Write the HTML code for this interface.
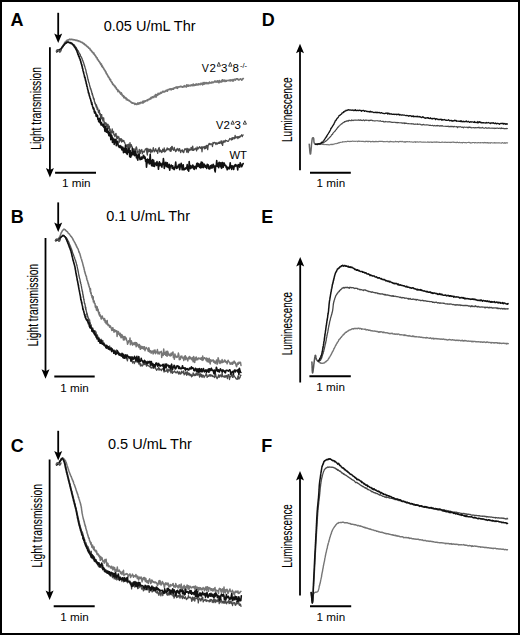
<!DOCTYPE html>
<html><head><meta charset="utf-8"><style>
html,body{margin:0;padding:0;background:#fff;}
svg{display:block}
text{font-family:"Liberation Sans",sans-serif;fill:#000;}
</style></head><body>
<svg width="520" height="635" viewBox="0 0 520 635">
<rect x="1" y="1" width="518" height="633" fill="#fff" stroke="#000" stroke-width="2"/>
<line x1="58.2" y1="12.8" x2="58.2" y2="37" stroke="#000" stroke-width="1.8"/><path d="M54.2 33.5 L58.2 35.5 L62.2 33.5 L58.2 43 Z" fill="#000"/>
<line x1="58.2" y1="202.4" x2="58.2" y2="226.0" stroke="#000" stroke-width="1.8"/><path d="M54.2 222.5 L58.2 224.5 L62.2 222.5 L58.2 232.0 Z" fill="#000"/>
<line x1="58.2" y1="430.8" x2="58.2" y2="454.4" stroke="#000" stroke-width="1.8"/><path d="M54.2 450.9 L58.2 452.9 L62.2 450.9 L58.2 460.4 Z" fill="#000"/>
<line x1="49.9" y1="47.2" x2="49.9" y2="171.5" stroke="#000" stroke-width="1.8"/><path d="M45.9 168.0 L49.9 170.0 L53.9 168.0 L49.9 177.5 Z" fill="#000"/>
<line x1="45.5" y1="238" x2="45.5" y2="372.8" stroke="#000" stroke-width="1.8"/><path d="M41.5 369.3 L45.5 371.3 L49.5 369.3 L45.5 378.8 Z" fill="#000"/>
<line x1="49.6" y1="459.5" x2="49.6" y2="594" stroke="#000" stroke-width="1.8"/><path d="M45.6 590.5 L49.6 592.5 L53.6 590.5 L49.6 600 Z" fill="#000"/>
<line x1="300" y1="49.8" x2="300" y2="170.2" stroke="#000" stroke-width="1.8"/><path d="M296 53.3 L300 51.3 L304 53.3 L300 43.8 Z" fill="#000"/>
<line x1="300.2" y1="263" x2="300.2" y2="382.5" stroke="#000" stroke-width="1.8"/><path d="M296.2 266.5 L300.2 264.5 L304.2 266.5 L300.2 257 Z" fill="#000"/>
<line x1="300" y1="477" x2="300" y2="595.5" stroke="#000" stroke-width="1.8"/><path d="M296 480.5 L300 478.5 L304 480.5 L300 471 Z" fill="#000"/>
<line x1="55.1" y1="172.8" x2="96" y2="172.8" stroke="#000" stroke-width="2"/>
<line x1="54.3" y1="376.4" x2="94.7" y2="376.4" stroke="#000" stroke-width="2"/>
<line x1="53.7" y1="606.2" x2="94.7" y2="606.2" stroke="#000" stroke-width="2"/>
<line x1="310" y1="172.7" x2="350.8" y2="172.7" stroke="#000" stroke-width="2"/>
<line x1="309.4" y1="376.3" x2="350.8" y2="376.3" stroke="#000" stroke-width="2"/>
<line x1="310" y1="606.2" x2="351.2" y2="606.2" stroke="#000" stroke-width="2"/>
<text x="10.4" y="26.2" font-size="18" font-weight="bold">A</text>
<text x="10.8" y="223.3" font-size="18" font-weight="bold">B</text>
<text x="10.7" y="451.7" font-size="18" font-weight="bold">C</text>
<text x="261.8" y="26.3" font-size="18" font-weight="bold">D</text>
<text x="261.2" y="223.0" font-size="18" font-weight="bold">E</text>
<text x="261.3" y="451.8" font-size="18" font-weight="bold">F</text>
<text x="103.7" y="30.8" font-size="14.5" font-weight="normal">0.05 U/mL Thr</text>
<text x="106.2" y="220.5" font-size="14.5" font-weight="normal">0.1 U/mL Thr</text>
<text x="108" y="448.8" font-size="14.5" font-weight="normal">0.5 U/mL Thr</text>
<text x="62.0" y="187.4" font-size="11.7" font-weight="normal">1 min</text>
<text x="60.2" y="391.5" font-size="11.7" font-weight="normal">1 min</text>
<text x="60.2" y="621.0" font-size="11.7" font-weight="normal">1 min</text>
<text x="316.6" y="187.2" font-size="11.7" font-weight="normal">1 min</text>
<text x="316.3" y="391.3" font-size="11.7" font-weight="normal">1 min</text>
<text x="316.6" y="621.3" font-size="11.7" font-weight="normal">1 min</text>
<text transform="translate(41.3 149.8) rotate(-90)" font-size="14" textLength="82.7" lengthAdjust="spacingAndGlyphs" stroke="#000" stroke-width="0.12">Light transmission</text>
<text transform="translate(37.8 346.2) rotate(-90)" font-size="14" textLength="82.4" lengthAdjust="spacingAndGlyphs" stroke="#000" stroke-width="0.12">Light transmission</text>
<text transform="translate(41.5 567.5) rotate(-90)" font-size="14" textLength="83.5" lengthAdjust="spacingAndGlyphs" stroke="#000" stroke-width="0.12">Light transmission</text>
<text transform="translate(292 142) rotate(-90)" font-size="14" textLength="64.5" lengthAdjust="spacingAndGlyphs" stroke="#000" stroke-width="0.12">Luminescence</text>
<text transform="translate(291.7 355.2) rotate(-90)" font-size="14" textLength="63.2" lengthAdjust="spacingAndGlyphs" stroke="#000" stroke-width="0.12">Luminescence</text>
<text transform="translate(292 567.7) rotate(-90)" font-size="14" textLength="63.5" lengthAdjust="spacingAndGlyphs" stroke="#000" stroke-width="0.12">Luminescence</text>
<text x="201.7" y="72.2" font-size="11.5" textLength="7.1" lengthAdjust="spacingAndGlyphs">V</text>
<text x="209.6" y="72.2" font-size="11.5" textLength="6.4" lengthAdjust="spacingAndGlyphs">2</text>
<path d="M217.15 66.15 L218.80 62.35 L220.45 66.15 Z" fill="none" stroke="#222" stroke-width="0.85" stroke-linejoin="miter"/>
<text x="220.9" y="72.2" font-size="11.5" textLength="6.4" lengthAdjust="spacingAndGlyphs">3</text>
<path d="M228.65 66.15 L230.30 62.35 L231.95 66.15 Z" fill="none" stroke="#222" stroke-width="0.85" stroke-linejoin="miter"/>
<text x="232.6" y="72.2" font-size="11.5" textLength="6.4" lengthAdjust="spacingAndGlyphs">8</text>
<text x="240.0" y="67.6" font-size="6.5" textLength="7.0" lengthAdjust="spacingAndGlyphs">-/-</text>
<text x="216.0" y="128.8" font-size="11.5" textLength="7.3" lengthAdjust="spacingAndGlyphs">V</text>
<text x="223.4" y="128.8" font-size="11.5" textLength="6.4" lengthAdjust="spacingAndGlyphs">2</text>
<path d="M231.05 124.15 L232.65 120.75 L234.25 124.15 Z" fill="none" stroke="#222" stroke-width="0.85" stroke-linejoin="miter"/>
<text x="234.4" y="128.8" font-size="11.5" textLength="6.4" lengthAdjust="spacingAndGlyphs">3</text>
<path d="M243.25 124.15 L244.85 120.75 L246.45 124.15 Z" fill="none" stroke="#222" stroke-width="0.85" stroke-linejoin="miter"/>
<text x="229.4" y="158.6" font-size="11.5" textLength="17.5" lengthAdjust="spacingAndGlyphs">WT</text>
<path d="M56.8 51.6L57.2 51.3L57.6 50.9L58.0 50.3L58.4 50.4L58.8 50.1L59.3 49.8L59.8 49.9L60.3 49.7L60.7 49.4L61.0 49.0L61.3 48.7L61.6 48.0L61.9 47.7L62.1 47.2L62.4 47.0L62.6 46.5L62.9 46.0L63.1 45.4L63.3 45.1L63.6 44.7L63.8 44.2L64.1 44.1L64.4 43.6L64.7 42.5L64.9 42.3L65.2 42.2L65.5 41.7L65.9 41.5L66.2 41.1L66.6 41.1L67.0 40.2L67.4 40.1L67.9 40.4L68.4 39.9L68.8 39.8L69.3 39.5L69.8 39.2L70.3 39.6L70.8 39.5L71.3 39.3L71.8 39.4L72.3 39.6L72.8 39.5L73.3 39.7L73.8 39.8L74.3 39.9L74.8 39.8L75.3 40.2L75.8 40.3L76.3 40.3L76.7 40.2L77.2 40.7L77.7 40.6L78.2 41.0L78.6 40.8L79.1 41.4L79.6 41.4L80.0 41.3L80.5 41.7L80.9 42.0L81.4 42.3L81.8 42.2L82.3 42.5L82.7 43.0L83.1 43.1L83.5 43.6L83.9 44.0L84.3 43.7L84.7 44.4L85.1 45.0L85.5 44.9L85.9 45.1L86.3 45.8L86.7 46.0L87.0 46.5L87.4 46.6L87.8 46.6L88.1 47.3L88.5 47.6L88.9 48.2L89.2 48.4L89.6 48.3L89.9 48.8L90.2 49.7L90.6 50.0L90.9 50.0L91.2 50.6L91.6 51.1L91.9 51.5L92.2 52.0L92.5 52.2L92.9 52.5L93.2 52.8L93.5 53.6L93.8 53.1L94.1 54.0L94.4 54.5L94.7 54.5L95.0 55.4L95.3 55.5L95.6 56.3L95.9 56.4L96.2 57.1L96.4 57.7L96.7 57.8L97.0 57.9L97.2 58.1L97.5 59.5L97.8 59.4L98.0 59.7L98.3 60.3L98.6 60.6L98.9 61.3L99.2 61.5L99.4 61.9L99.7 62.1L100.0 62.9L100.3 62.9L100.6 63.8L100.8 64.5L101.1 64.0L101.4 64.1L101.6 65.5L101.9 66.5L102.2 65.8L102.4 66.1L102.7 67.2L102.9 67.1L103.2 67.7L103.5 68.1L103.7 68.8L104.0 69.0L104.2 69.6L104.5 69.9L104.8 70.1L105.0 70.7L105.3 70.9L105.5 71.7L105.8 71.7L106.0 72.2L106.3 73.5L106.5 73.4L106.8 73.8L107.0 74.5L107.2 74.6L107.5 75.1L107.7 75.8L108.0 76.1L108.2 76.1L108.5 77.2L108.7 77.1L109.0 77.4L109.2 77.9L109.5 78.5L109.8 79.6L110.0 79.0L110.3 80.0L110.5 79.5L110.8 80.7L111.1 81.5L111.4 81.5L111.6 81.8L111.9 82.5L112.2 83.1L112.5 83.5L112.8 84.4L113.0 84.2L113.3 84.2L113.6 84.8L113.9 85.3L114.2 85.7L114.5 86.1L114.8 86.6L115.1 86.2L115.4 87.6L115.7 87.4L116.1 87.6L116.4 88.7L116.7 89.4L117.0 89.4L117.3 89.7L117.7 89.6L118.0 91.6L118.3 91.1L118.6 90.6L118.9 91.2L119.3 91.9L119.6 91.6L119.9 92.7L120.3 92.8L120.6 93.9L121.0 94.2L121.3 92.9L121.6 94.5L122.0 94.1L122.3 95.7L122.7 95.6L123.1 96.1L123.4 95.7L123.8 97.4L124.2 97.8L124.5 96.7L124.9 97.7L125.3 97.6L125.7 98.2L126.0 97.9L126.4 99.7L126.8 98.7L127.2 99.3L127.6 100.0L128.0 99.8L128.4 100.3L128.8 100.4L129.2 100.9L129.6 100.7L130.0 101.3L130.5 101.7L130.9 101.9L131.3 102.4L131.7 102.4L132.2 103.2L132.6 102.9L133.0 103.2L133.5 103.2L134.0 103.5L134.4 103.3L134.9 104.3L135.4 103.6L135.9 103.8L136.4 104.4L136.9 104.4L137.4 103.9L137.9 103.0L138.4 104.1L138.8 103.8L139.3 102.8L139.8 103.7L140.2 102.8L140.7 102.4L141.2 102.9L141.6 102.6L142.1 102.6L142.6 101.5L143.0 103.1L143.5 101.6L144.0 101.0L144.4 101.9L144.9 101.2L145.4 101.3L145.8 100.8L146.3 100.7L146.7 100.7L147.2 100.0L147.6 100.5L148.1 99.7L148.5 99.3L149.0 99.5L149.4 99.5L149.9 98.9L150.3 98.4L150.8 98.9L151.2 97.4L151.6 97.6L152.1 97.9L152.5 96.9L153.0 97.4L153.4 97.1L153.8 97.3L154.2 96.1L154.7 96.0L155.1 96.3L155.5 94.6L156.0 97.2L156.4 95.0L156.8 94.7L157.3 95.3L157.7 94.6L158.1 93.4L158.6 94.5L159.0 94.3L159.5 93.4L159.9 93.3L160.4 93.5L160.8 92.5L161.3 93.0L161.7 92.7L162.2 92.0L162.6 91.4L163.1 91.8L163.5 91.3L164.0 92.1L164.5 91.4L164.9 91.6L165.4 91.1L165.9 90.9L166.3 90.2L166.8 90.8L167.3 91.2L167.7 89.9L168.2 89.6L168.7 89.7L169.1 89.4L169.6 89.1L170.1 89.4L170.6 89.0L171.1 89.8L171.5 88.9L172.0 89.0L172.5 89.2L173.0 88.4L173.5 89.2L174.0 88.0L174.5 87.8L174.9 87.9L175.4 87.9L175.9 87.1L176.4 87.8L176.9 86.8L177.4 88.3L177.9 87.4L178.4 87.0L178.9 86.8L179.4 87.0L179.8 87.0L180.3 86.4L180.8 86.4L181.3 86.7L181.8 86.5L182.3 87.2L182.8 87.2L183.3 86.6L183.8 86.7L184.3 85.7L184.8 86.7L185.3 86.3L185.8 86.5L186.3 87.0L186.8 84.8L187.3 86.1L187.8 85.3L188.3 86.2L188.7 85.0L189.2 85.4L189.7 85.7L190.2 85.9L190.7 85.5L191.2 84.9L191.7 85.0L192.2 85.7L192.7 85.1L193.2 84.1L193.7 85.5L194.2 85.1L194.7 85.3L195.2 84.6L195.7 85.1L196.2 84.0L196.7 84.8L197.1 84.2L197.6 84.8L198.1 84.9L198.6 83.8L199.1 84.1L199.6 84.1L200.1 84.7L200.6 84.3L201.1 83.2L201.6 84.0L202.1 84.1L202.6 84.8L203.1 82.6L203.6 83.2L204.1 84.2L204.6 82.6L205.1 82.6L205.6 83.5L206.0 83.7L206.5 82.7L207.0 83.3L207.5 83.0L208.0 83.7L208.5 82.8L209.0 83.3L209.5 82.1L210.0 82.5L210.5 82.5L211.0 83.1L211.5 82.7L212.0 81.9L212.5 82.7L213.0 82.7L213.5 82.1L214.0 82.0L214.5 81.9L215.0 81.0L215.5 82.0L216.0 82.0L216.5 81.3L217.0 82.2L217.5 80.9L218.0 81.3L218.5 81.3L218.9 82.7L219.4 80.5L219.9 81.7L220.4 81.9L220.9 81.5L221.4 81.9L221.9 80.6L222.4 79.8L222.9 81.5L223.4 80.3L223.9 80.8L224.4 80.2L224.9 81.4L225.4 81.3L225.9 80.3L226.4 81.2L226.9 80.7L227.4 80.5L227.9 80.5L228.4 80.3L228.9 80.7L229.4 80.5L229.9 80.0L230.4 80.8L230.9 79.8L231.4 80.2L231.9 80.3L232.4 80.8L232.9 79.6L233.4 80.9L233.8 79.9L234.3 79.6L234.8 79.3L235.3 80.0L235.8 79.6L236.3 78.8L236.8 78.8L237.3 79.1L237.8 78.9L238.3 79.9L238.8 80.0L239.3 79.7L239.8 79.3L240.3 78.8L240.8 79.0L241.3 79.5L241.8 80.1L242.3 79.4L242.8 78.6L243.3 78.7" fill="none" stroke="#767676" stroke-width="1.7" stroke-linejoin="round" stroke-linecap="round"/>
<path d="M56.8 51.5L57.2 51.1L57.6 50.8L58.0 50.2L58.4 50.6L58.8 50.3L59.3 49.9L59.8 49.9L60.3 49.7L60.7 49.3L61.0 49.2L61.4 48.6L61.7 48.2L62.0 47.7L62.3 47.5L62.6 47.0L62.9 46.7L63.2 46.1L63.4 45.8L63.7 45.2L64.1 45.2L64.4 44.7L64.7 44.3L65.1 44.0L65.4 43.4L65.8 43.4L66.2 43.3L66.6 42.3L67.1 42.1L67.5 42.0L68.0 42.4L68.5 42.2L69.0 42.4L69.5 42.5L70.0 42.5L70.5 42.7L70.9 42.8L71.4 43.3L71.8 43.1L72.2 43.5L72.6 43.9L73.0 44.6L73.4 44.3L73.8 44.5L74.2 45.0L74.5 45.7L74.8 45.8L75.1 46.6L75.4 46.2L75.7 47.4L76.0 47.7L76.3 47.6L76.6 48.4L76.8 49.1L77.1 49.2L77.4 49.8L77.6 50.6L77.9 50.5L78.1 50.8L78.4 51.1L78.6 51.9L78.8 52.2L79.0 52.6L79.3 53.1L79.5 53.7L79.7 53.7L79.9 54.1L80.2 54.3L80.4 55.7L80.6 55.8L80.8 56.6L81.0 56.7L81.3 56.9L81.5 57.7L81.7 58.0L81.9 58.2L82.1 58.7L82.3 59.9L82.5 60.0L82.7 60.5L82.9 60.7L83.0 61.1L83.2 62.0L83.4 62.2L83.5 62.5L83.7 63.1L83.8 63.4L84.0 64.2L84.1 64.9L84.3 64.8L84.4 66.0L84.6 65.8L84.7 66.6L84.9 66.8L85.0 67.4L85.1 68.0L85.3 68.3L85.4 68.7L85.6 69.2L85.7 69.6L85.8 69.9L86.0 70.8L86.1 71.4L86.2 72.1L86.3 72.5L86.5 73.5L86.6 73.3L86.7 73.6L86.8 74.8L86.9 74.4L87.1 75.5L87.2 75.4L87.3 76.3L87.4 76.1L87.5 77.4L87.6 77.6L87.7 77.8L87.8 79.1L88.0 79.3L88.1 79.6L88.2 79.8L88.3 80.5L88.4 81.0L88.6 81.8L88.7 82.3L88.8 82.2L89.0 82.8L89.1 83.2L89.2 83.4L89.4 84.2L89.5 84.9L89.7 85.7L89.8 86.4L89.9 86.0L90.1 87.1L90.2 87.1L90.4 88.8L90.5 88.2L90.7 89.0L90.8 88.7L91.0 89.2L91.1 90.3L91.2 90.4L91.4 91.3L91.5 90.7L91.7 92.5L91.8 92.0L92.0 94.1L92.1 93.3L92.3 94.7L92.4 93.5L92.5 95.2L92.7 94.8L92.8 95.6L93.0 96.4L93.1 96.6L93.2 97.5L93.4 98.4L93.5 98.8L93.7 98.7L93.8 98.2L93.9 99.1L94.1 100.1L94.2 99.0L94.4 101.8L94.5 101.5L94.7 101.9L94.9 103.4L95.0 103.7L95.2 103.7L95.4 103.1L95.5 104.8L95.7 105.3L95.9 104.6L96.1 106.9L96.3 106.8L96.5 104.8L96.7 107.4L96.9 106.4L97.1 109.4L97.3 109.5L97.6 107.8L97.8 108.5L98.0 110.1L98.2 110.1L98.5 112.6L98.7 112.2L98.9 111.4L99.1 112.9L99.4 110.1L99.6 113.5L99.8 114.6L100.0 113.7L100.3 113.5L100.5 115.6L100.7 117.9L101.0 116.0L101.2 114.7L101.5 118.5L101.7 114.6L101.9 118.2L102.2 117.1L102.4 119.6L102.7 117.7L102.9 121.0L103.2 120.1L103.4 117.8L103.7 117.8L103.9 120.5L104.2 123.2L104.4 122.0L104.7 122.3L105.0 122.3L105.2 124.1L105.5 124.0L105.8 124.3L106.0 123.0L106.3 126.4L106.6 127.1L106.9 123.8L107.2 129.3L107.5 127.4L107.8 126.1L108.1 124.5L108.4 128.6L108.7 128.8L109.0 127.5L109.3 126.2L109.6 130.8L109.9 128.7L110.2 129.3L110.5 134.6L110.9 133.9L111.2 132.5L111.5 130.8L111.8 132.8L112.2 128.8L112.5 132.8L112.8 131.8L113.2 131.4L113.5 131.3L113.9 134.9L114.2 134.6L114.6 135.1L114.9 136.5L115.3 134.2L115.6 133.9L116.0 133.4L116.3 136.0L116.7 138.1L117.0 137.0L117.4 138.6L117.8 136.1L118.1 137.5L118.5 137.4L118.9 137.0L119.2 142.3L119.6 141.0L120.0 138.7L120.4 139.0L120.7 140.5L121.1 138.6L121.5 142.0L121.9 139.4L122.3 141.3L122.7 140.5L123.1 141.7L123.4 140.6L123.8 140.5L124.2 141.8L124.6 142.6L125.0 143.6L125.4 144.5L125.8 147.3L126.2 146.4L126.6 144.8L127.0 146.8L127.5 144.6L127.9 148.7L128.3 147.4L128.7 144.2L129.1 148.3L129.6 148.6L130.0 142.6L130.4 146.3L130.9 147.0L131.3 144.7L131.8 146.4L132.2 146.9L132.7 149.7L133.1 149.5L133.6 153.9L134.0 148.7L134.5 151.6L135.0 149.9L135.5 150.4L135.9 148.0L136.4 146.8L136.9 149.0L137.4 151.8L137.9 153.4L138.3 151.8L138.8 151.7L139.3 149.5L139.8 153.7L140.3 153.4L140.8 150.2L141.3 151.1L141.8 149.5L142.3 153.8L142.8 152.0L143.3 151.2L143.8 152.0L144.3 152.1L144.8 150.6L145.3 149.2L145.8 149.1L146.3 148.4L146.8 152.1L147.3 155.0L147.8 148.4L148.3 151.4L148.8 151.8L149.3 149.4L149.8 151.4L150.3 149.1L150.8 152.9L151.3 149.9L151.8 151.0L152.3 151.9L152.8 150.0L153.3 147.7L153.8 149.7L154.3 151.8L154.8 150.4L155.2 150.8L155.7 148.6L156.2 150.6L156.7 151.5L157.2 150.3L157.7 153.3L158.2 149.8L158.7 148.4L159.2 147.5L159.7 151.9L160.2 149.9L160.7 151.6L161.2 150.7L161.7 152.5L162.2 151.9L162.7 149.2L163.2 150.2L163.7 151.5L164.2 147.8L164.7 152.0L165.2 151.6L165.7 151.2L166.2 149.4L166.7 150.1L167.2 147.9L167.7 149.7L168.2 148.7L168.7 149.7L169.2 148.8L169.7 150.0L170.2 151.4L170.7 147.6L171.2 151.0L171.7 146.6L172.2 146.4L172.7 149.5L173.2 149.7L173.7 150.4L174.2 147.3L174.7 149.7L175.2 150.0L175.7 151.7L176.2 149.7L176.7 150.7L177.2 148.5L177.7 149.7L178.2 149.3L178.7 151.0L179.2 148.6L179.7 148.8L180.2 150.9L180.7 152.7L181.2 150.7L181.7 150.6L182.2 149.7L182.7 151.8L183.2 151.0L183.7 152.7L184.2 150.7L184.7 148.9L185.2 149.5L185.7 148.9L186.2 148.5L186.7 152.1L187.2 151.4L187.7 148.5L188.2 152.7L188.7 150.5L189.2 148.8L189.7 150.6L190.2 150.0L190.7 148.9L191.2 147.3L191.7 149.9L192.2 150.2L192.7 146.2L193.2 150.4L193.7 150.4L194.2 148.9L194.7 149.6L195.1 149.0L195.6 148.1L196.1 148.7L196.6 150.9L197.1 147.0L197.6 149.2L198.1 149.0L198.6 147.7L199.1 147.9L199.5 146.6L200.0 147.2L200.5 148.2L201.0 148.5L201.5 146.8L202.0 151.8L202.5 146.9L202.9 147.7L203.4 147.1L203.9 146.8L204.4 148.8L204.9 146.4L205.3 148.6L205.8 148.2L206.3 145.3L206.8 147.8L207.3 145.5L207.7 149.6L208.2 145.5L208.7 144.7L209.2 143.3L209.6 143.9L210.1 144.7L210.6 144.0L211.1 143.6L211.6 144.1L212.0 144.6L212.5 146.5L213.0 142.5L213.5 143.7L214.0 143.1L214.4 142.3L214.9 142.5L215.4 142.8L215.9 144.6L216.4 143.4L216.8 142.8L217.3 144.1L217.8 143.5L218.3 142.8L218.8 143.4L219.3 141.8L219.7 143.4L220.2 143.1L220.7 141.9L221.2 140.8L221.7 143.9L222.1 142.1L222.6 145.4L223.1 140.9L223.6 142.5L224.1 140.9L224.5 141.6L225.0 142.1L225.5 140.1L226.0 140.8L226.5 140.9L226.9 140.7L227.4 141.1L227.9 141.4L228.4 141.1L228.9 140.3L229.3 139.5L229.8 138.5L230.3 138.8L230.8 138.8L231.3 140.0L231.7 138.7L232.2 137.6L232.7 139.5L233.2 137.8L233.6 137.7L234.1 138.1L234.6 138.7L235.1 135.5L235.5 136.7L236.0 138.0L236.5 137.2L237.0 136.6L237.5 136.8L237.9 138.6L238.4 136.6L238.9 137.6L239.4 137.6L239.8 136.1L240.3 136.9L240.8 135.8L241.3 135.5L241.7 134.8L242.2 136.7L242.7 135.3L243.2 135.0" fill="none" stroke="#4a4a4a" stroke-width="1.3" stroke-linejoin="round" stroke-linecap="round"/>
<path d="M56.8 51.8L57.2 50.8L57.6 50.9L58.0 50.5L58.4 50.2L58.8 50.0L59.3 49.6L59.8 49.8L60.3 49.5L60.7 49.9L61.0 49.0L61.3 48.5L61.6 48.1L61.8 47.6L62.1 47.1L62.4 46.8L62.7 46.6L63.0 46.0L63.3 45.9L63.6 45.2L63.9 44.9L64.2 44.8L64.5 44.2L64.9 43.7L65.2 43.4L65.6 43.2L66.0 43.2L66.4 42.5L66.9 42.3L67.4 42.4L67.9 42.0L68.4 42.2L68.9 42.5L69.3 42.6L69.8 42.7L70.3 43.0L70.7 42.5L71.1 43.6L71.5 43.4L72.0 43.6L72.3 44.3L72.7 44.7L73.1 44.8L73.4 45.0L73.7 45.7L74.0 46.1L74.3 46.8L74.6 47.1L74.9 47.3L75.2 48.0L75.4 48.1L75.7 48.4L75.9 49.2L76.1 49.6L76.4 49.9L76.6 50.2L76.7 50.9L76.9 50.7L77.1 52.0L77.3 52.4L77.4 52.3L77.6 53.2L77.7 53.4L77.9 54.3L78.1 54.1L78.3 54.8L78.5 55.7L78.7 56.3L78.9 55.9L79.1 56.8L79.3 57.5L79.4 57.7L79.6 58.7L79.8 58.5L80.0 59.3L80.2 59.4L80.3 60.5L80.5 60.6L80.6 61.0L80.8 61.1L80.9 62.5L81.1 62.8L81.2 63.2L81.3 63.8L81.4 64.1L81.6 64.3L81.7 64.8L81.8 65.2L81.9 66.3L82.1 66.0L82.2 66.8L82.3 67.3L82.4 68.0L82.5 68.5L82.7 68.5L82.8 68.9L82.9 69.8L83.0 70.7L83.1 71.0L83.3 71.3L83.4 71.7L83.5 72.3L83.6 72.7L83.8 73.5L83.9 73.5L84.0 74.2L84.1 74.6L84.3 75.3L84.4 75.7L84.5 76.9L84.6 77.0L84.8 77.5L84.9 77.0L85.0 78.0L85.1 78.4L85.3 79.2L85.4 78.9L85.5 80.3L85.6 80.8L85.7 80.6L85.9 81.2L86.0 81.7L86.1 82.4L86.2 83.1L86.3 84.0L86.5 83.8L86.6 84.6L86.7 84.9L86.8 85.9L86.9 86.1L87.0 86.7L87.1 86.5L87.3 87.2L87.4 87.5L87.5 88.7L87.6 89.0L87.7 89.2L87.8 89.6L88.0 90.4L88.1 90.5L88.2 90.9L88.3 91.8L88.4 93.0L88.6 92.5L88.7 92.9L88.8 93.1L89.0 93.5L89.1 94.8L89.2 95.4L89.4 95.5L89.5 96.2L89.6 96.5L89.8 97.0L89.9 96.7L90.0 97.7L90.2 98.5L90.3 98.5L90.5 99.1L90.6 99.4L90.8 100.1L90.9 101.3L91.1 101.0L91.2 101.7L91.4 102.8L91.5 103.2L91.7 104.4L91.8 102.2L92.0 104.8L92.2 104.2L92.3 105.2L92.5 106.2L92.7 106.9L92.9 107.3L93.0 107.1L93.2 108.8L93.4 107.6L93.6 108.2L93.8 109.5L94.0 108.8L94.2 111.8L94.3 111.2L94.5 112.9L94.7 111.1L94.9 111.2L95.1 112.2L95.3 113.3L95.5 112.3L95.7 113.8L95.9 113.9L96.1 116.2L96.3 114.0L96.6 116.5L96.8 114.9L97.0 114.9L97.2 115.7L97.5 115.4L97.7 117.7L97.9 119.3L98.2 118.6L98.4 119.7L98.7 121.6L98.9 120.0L99.2 120.4L99.4 120.1L99.7 118.4L99.9 122.6L100.2 119.0L100.4 123.3L100.7 122.6L101.0 124.9L101.2 123.4L101.5 122.6L101.8 124.9L102.0 123.8L102.3 124.9L102.6 125.7L102.8 125.8L103.1 126.1L103.4 125.5L103.7 127.0L103.9 124.0L104.2 127.8L104.5 126.5L104.8 130.9L105.1 131.5L105.4 126.3L105.7 130.4L106.0 130.3L106.3 129.1L106.6 132.3L106.9 130.9L107.2 128.9L107.5 132.0L107.9 132.6L108.2 133.5L108.5 131.4L108.8 135.2L109.2 135.8L109.5 132.6L109.8 133.9L110.2 135.4L110.5 134.8L110.8 139.6L111.2 137.0L111.5 135.1L111.8 135.9L112.2 137.6L112.5 142.5L112.9 138.1L113.2 139.1L113.5 140.2L113.9 139.5L114.2 144.4L114.6 139.2L114.9 142.1L115.3 141.3L115.6 142.6L116.0 139.3L116.3 145.7L116.7 142.2L117.1 142.8L117.4 141.2L117.8 141.9L118.1 145.0L118.5 146.2L118.9 146.1L119.2 147.4L119.6 146.7L120.0 145.5L120.4 147.6L120.7 147.4L121.1 146.3L121.5 148.4L121.9 149.9L122.3 147.9L122.7 147.0L123.1 149.6L123.5 152.6L123.9 148.2L124.3 148.7L124.7 148.9L125.1 152.3L125.5 145.6L125.9 150.9L126.3 153.1L126.7 148.8L127.2 154.4L127.6 152.4L128.0 150.1L128.4 152.2L128.9 148.3L129.3 150.8L129.7 156.8L130.2 150.5L130.6 157.3L131.1 152.9L131.5 155.7L132.0 153.6L132.4 148.4L132.9 152.6L133.3 154.6L133.8 151.6L134.2 151.4L134.7 155.7L135.1 153.5L135.6 151.2L136.0 153.9L136.5 157.8L136.9 154.8L137.3 158.4L137.8 160.1L138.2 156.7L138.7 154.2L139.1 154.0L139.6 157.3L140.0 159.6L140.5 158.4L141.0 159.3L141.4 157.1L141.9 159.1L142.3 157.4L142.8 157.9L143.3 155.8L143.7 155.3L144.2 158.1L144.7 156.8L145.1 157.3L145.6 161.4L146.1 159.7L146.5 167.1L147.0 162.6L147.4 159.0L147.9 162.6L148.4 161.8L148.8 159.5L149.3 164.0L149.8 159.7L150.2 154.4L150.7 163.8L151.2 160.6L151.6 165.8L152.1 160.8L152.6 159.7L153.1 166.3L153.6 160.2L154.0 163.3L154.5 166.4L155.0 163.3L155.5 163.0L156.0 163.5L156.5 165.4L157.0 161.5L157.5 165.0L158.0 165.0L158.5 169.3L158.9 163.1L159.4 161.8L159.9 165.8L160.4 163.2L160.9 164.9L161.4 164.6L161.9 167.2L162.4 163.0L162.9 164.4L163.4 158.6L163.9 162.7L164.3 168.5L164.8 163.4L165.3 163.4L165.8 162.3L166.3 166.6L166.8 165.8L167.3 162.7L167.8 167.2L168.3 166.3L168.8 167.6L169.2 164.4L169.7 170.1L170.2 167.0L170.7 165.8L171.2 165.0L171.7 165.7L172.2 168.3L172.7 165.7L173.2 168.9L173.7 167.8L174.2 169.6L174.7 168.4L175.2 166.3L175.7 162.0L176.2 167.2L176.7 168.3L177.2 166.9L177.7 167.8L178.2 165.4L178.7 165.6L179.2 164.3L179.7 169.7L180.2 166.8L180.7 165.3L181.2 163.3L181.7 166.1L182.2 169.8L182.7 167.5L183.2 164.7L183.7 169.8L184.2 169.8L184.7 168.7L185.2 168.2L185.7 169.1L186.2 167.6L186.7 168.2L187.2 164.5L187.7 169.9L188.2 166.9L188.7 171.1L189.2 161.5L189.7 168.0L190.2 168.6L190.7 165.5L191.2 167.4L191.7 168.0L192.2 167.6L192.7 165.0L193.2 165.9L193.7 168.7L194.2 169.3L194.7 166.5L195.2 166.4L195.7 166.7L196.2 168.7L196.7 163.8L197.2 163.1L197.7 166.5L198.2 163.6L198.7 164.8L199.2 166.4L199.7 167.3L200.2 163.7L200.7 168.0L201.2 162.0L201.7 167.4L202.2 162.4L202.7 163.1L203.2 167.6L203.7 165.2L204.2 164.2L204.7 165.0L205.2 167.2L205.7 165.9L206.2 166.0L206.7 168.5L207.2 164.4L207.7 164.9L208.2 164.8L208.7 168.7L209.2 168.3L209.7 169.0L210.2 165.9L210.7 165.6L211.2 168.0L211.7 165.1L212.2 167.9L212.7 167.6L213.2 164.3L213.7 165.8L214.2 165.7L214.7 170.0L215.2 171.9L215.7 165.7L216.2 165.9L216.7 160.6L217.2 166.4L217.7 165.9L218.2 163.4L218.7 167.7L219.2 162.2L219.7 165.4L220.2 166.2L220.7 162.9L221.2 167.8L221.7 168.3L222.2 162.6L222.7 162.5L223.2 167.2L223.7 165.7L224.2 163.0L224.7 165.1L225.2 165.5L225.7 165.4L226.2 167.7L226.7 166.6L227.2 169.8L227.7 168.9L228.2 167.3L228.7 168.2L229.2 168.8L229.7 167.3L230.2 162.9L230.7 167.7L231.2 165.8L231.7 169.4L232.2 165.9L232.7 166.9L233.2 166.4L233.7 169.5L234.2 166.0L234.7 165.0L235.2 166.3L235.7 164.6L236.2 166.0L236.7 165.6L237.2 166.2L237.7 170.0L238.2 164.6L238.7 165.7L239.2 165.1L239.7 167.1L240.2 162.8L240.7 163.9L241.2 165.4L241.7 166.8L242.2 165.4L242.7 164.4L243.2 163.5" fill="none" stroke="#111" stroke-width="1.6" stroke-linejoin="round" stroke-linecap="round"/>
<path d="M55.6 240.4L56.1 240.3L56.5 240.4L57.0 240.1L57.4 239.5L57.8 239.4L58.2 239.0L58.5 238.7L58.8 238.0L59.0 237.9L59.3 237.4L59.5 237.2L59.7 236.6L60.0 236.2L60.2 235.4L60.4 235.6L60.6 234.4L60.7 234.4L60.9 233.7L61.1 233.1L61.3 232.7L61.5 232.3L61.7 232.0L62.0 231.5L62.2 231.4L62.5 230.3L62.8 230.3L63.2 229.7L63.5 229.7L64.0 229.0L64.5 229.4L64.9 229.8L65.3 229.7L65.7 230.5L66.1 230.7L66.5 231.2L66.8 231.5L67.2 231.5L67.5 231.9L67.8 232.4L68.1 233.0L68.5 233.4L68.8 233.4L69.1 233.8L69.5 234.2L69.8 234.6L70.1 235.1L70.4 235.5L70.7 236.3L71.1 236.2L71.4 236.6L71.6 237.2L71.9 237.3L72.2 237.8L72.5 238.3L72.7 238.9L73.0 238.9L73.2 240.0L73.5 240.0L73.7 240.5L73.9 241.1L74.2 241.5L74.4 242.1L74.6 242.3L74.9 242.7L75.1 243.2L75.3 243.4L75.5 244.4L75.8 244.3L76.0 244.6L76.2 245.9L76.4 245.8L76.6 246.0L76.8 247.2L77.1 247.1L77.3 247.9L77.5 247.9L77.7 248.5L77.9 248.6L78.1 249.0L78.3 249.7L78.5 250.4L78.7 251.1L78.8 252.0L79.0 251.5L79.2 252.5L79.4 252.6L79.5 253.2L79.7 253.3L79.9 253.8L80.0 254.4L80.2 254.8L80.3 255.6L80.5 255.9L80.6 256.9L80.8 257.1L80.9 257.5L81.1 258.3L81.2 258.6L81.4 258.9L81.5 259.4L81.7 259.8L81.8 260.7L82.0 261.1L82.1 261.4L82.2 262.0L82.4 262.1L82.5 262.9L82.6 262.8L82.8 264.1L82.9 264.2L83.0 264.7L83.1 265.4L83.3 265.7L83.4 266.1L83.5 267.0L83.6 267.1L83.8 267.3L83.9 268.2L84.0 268.1L84.1 269.5L84.3 269.5L84.4 270.0L84.5 271.2L84.6 271.6L84.8 271.5L84.9 272.1L85.0 272.8L85.2 273.5L85.3 273.4L85.4 273.9L85.6 274.8L85.7 274.9L85.8 275.6L86.0 276.0L86.1 275.8L86.2 276.4L86.4 276.1L86.5 277.6L86.7 278.8L86.8 278.2L86.9 279.8L87.1 280.1L87.2 280.1L87.4 280.6L87.5 281.1L87.7 281.1L87.8 281.9L87.9 282.5L88.1 283.4L88.2 284.0L88.4 283.5L88.5 285.0L88.7 284.4L88.8 285.3L88.9 286.1L89.1 286.3L89.2 286.8L89.4 287.5L89.5 287.4L89.6 287.8L89.8 288.6L89.9 290.0L90.1 289.6L90.2 291.7L90.3 290.8L90.5 288.8L90.6 291.3L90.8 293.5L90.9 292.6L91.1 292.7L91.2 292.8L91.4 295.2L91.5 295.4L91.6 295.6L91.8 295.9L92.0 297.3L92.1 297.2L92.3 295.7L92.4 298.1L92.6 298.0L92.7 298.2L92.9 299.6L93.1 299.3L93.2 296.7L93.4 301.9L93.5 301.8L93.7 301.0L93.9 301.2L94.0 302.3L94.2 301.1L94.4 303.4L94.6 303.2L94.7 303.6L94.9 303.3L95.1 304.1L95.3 306.7L95.5 307.4L95.7 306.9L95.9 306.7L96.1 306.1L96.3 308.5L96.5 310.1L96.8 306.6L97.0 310.4L97.2 306.8L97.4 309.5L97.7 310.8L97.9 309.1L98.1 309.3L98.4 311.9L98.6 313.2L98.9 311.9L99.1 314.6L99.4 312.4L99.6 316.0L99.9 314.4L100.2 314.9L100.4 315.8L100.7 315.9L101.0 318.2L101.3 319.1L101.6 317.4L101.9 316.9L102.2 316.0L102.5 316.9L102.9 318.3L103.2 318.5L103.5 319.0L103.8 319.4L104.2 320.4L104.5 318.4L104.8 319.2L105.2 322.4L105.5 322.4L105.8 320.9L106.2 323.7L106.5 321.5L106.9 322.4L107.2 320.6L107.5 324.6L107.9 323.8L108.2 325.6L108.6 325.5L108.9 325.0L109.3 325.5L109.6 327.2L110.0 325.7L110.4 326.1L110.7 326.8L111.1 328.1L111.4 328.6L111.8 330.4L112.2 327.9L112.5 330.2L112.9 327.8L113.3 329.9L113.6 329.6L114.0 332.2L114.4 331.0L114.8 329.8L115.1 331.6L115.5 331.6L115.9 330.9L116.3 331.3L116.7 330.7L117.1 336.4L117.5 332.9L117.9 334.4L118.2 331.6L118.6 332.0L119.0 333.7L119.4 334.0L119.8 335.7L120.2 333.3L120.6 335.9L121.0 337.7L121.4 334.4L121.8 337.4L122.2 334.9L122.6 337.2L123.0 337.5L123.4 339.9L123.8 336.5L124.2 338.1L124.6 339.8L125.0 336.6L125.4 338.7L125.8 337.7L126.2 338.2L126.7 340.7L127.1 341.0L127.5 344.2L127.9 342.6L128.3 342.7L128.7 340.7L129.2 340.7L129.6 341.7L130.0 338.1L130.4 344.7L130.9 341.2L131.3 340.8L131.7 342.0L132.2 344.4L132.6 345.2L133.0 342.9L133.5 344.4L133.9 343.9L134.4 342.6L134.8 344.7L135.3 344.7L135.7 342.4L136.2 346.8L136.6 342.8L137.1 345.9L137.5 344.0L138.0 344.6L138.4 344.9L138.9 347.4L139.4 344.4L139.8 346.3L140.3 349.3L140.8 345.9L141.2 347.1L141.7 348.4L142.2 346.6L142.7 348.4L143.1 346.8L143.6 349.1L144.1 348.3L144.5 346.8L145.0 350.7L145.5 348.5L145.9 348.4L146.4 347.5L146.9 348.4L147.4 349.2L147.8 349.8L148.3 351.4L148.8 347.7L149.3 349.4L149.7 352.1L150.2 350.6L150.7 351.1L151.1 353.2L151.6 351.3L152.1 351.7L152.6 351.0L153.1 354.0L153.5 353.0L154.0 350.3L154.5 352.5L155.0 349.9L155.5 353.7L155.9 353.1L156.4 351.9L156.9 351.7L157.4 349.6L157.9 353.8L158.3 352.5L158.8 352.3L159.3 354.1L159.8 352.0L160.3 352.3L160.8 352.2L161.3 351.3L161.7 357.4L162.2 353.4L162.7 353.2L163.2 355.4L163.7 349.0L164.2 354.1L164.7 354.3L165.1 352.8L165.6 355.2L166.1 351.3L166.6 354.7L167.1 356.2L167.6 351.3L168.1 352.7L168.6 354.8L169.0 355.1L169.5 354.2L170.0 355.9L170.5 355.8L171.0 353.3L171.5 355.4L172.0 353.6L172.5 352.4L173.0 352.0L173.4 357.6L173.9 355.8L174.4 359.3L174.9 353.9L175.4 355.7L175.9 356.9L176.4 356.3L176.9 357.4L177.4 356.9L177.9 355.8L178.4 353.1L178.9 355.4L179.3 359.8L179.8 358.3L180.3 359.4L180.8 356.3L181.3 357.0L181.8 356.0L182.3 358.1L182.8 357.7L183.3 358.4L183.8 360.5L184.3 356.4L184.8 359.0L185.3 355.7L185.8 359.7L186.3 357.3L186.8 358.0L187.3 358.4L187.8 360.9L188.3 358.2L188.8 357.5L189.3 356.5L189.8 358.9L190.3 357.1L190.7 357.8L191.2 358.6L191.7 359.7L192.2 357.6L192.7 359.9L193.2 361.7L193.7 356.5L194.2 361.1L194.7 362.4L195.2 358.1L195.7 360.1L196.2 356.9L196.7 359.7L197.2 358.7L197.7 359.8L198.2 357.9L198.7 358.1L199.2 358.7L199.7 358.3L200.2 358.5L200.7 359.2L201.2 357.8L201.7 359.4L202.2 360.4L202.7 356.0L203.2 360.1L203.7 358.6L204.2 358.0L204.7 357.7L205.2 358.6L205.7 358.8L206.2 360.5L206.7 358.0L207.2 361.7L207.7 358.8L208.2 361.3L208.7 362.0L209.2 358.3L209.7 362.0L210.2 363.9L210.7 359.7L211.2 361.4L211.7 360.4L212.2 360.8L212.7 360.4L213.1 359.9L213.6 362.0L214.1 362.3L214.6 360.9L215.1 363.4L215.6 362.8L216.1 362.2L216.6 360.0L217.1 364.2L217.6 363.3L218.1 357.8L218.6 359.5L219.1 360.6L219.6 362.9L220.1 363.4L220.6 361.0L221.1 361.9L221.6 362.7L222.1 359.6L222.6 362.6L223.1 361.2L223.6 362.0L224.1 361.7L224.6 360.0L225.1 360.3L225.6 362.0L226.1 362.2L226.6 361.6L227.1 363.8L227.6 361.5L228.1 360.2L228.6 361.6L229.1 361.9L229.6 362.1L230.1 364.2L230.6 363.2L231.1 364.1L231.6 363.4L232.1 362.2L232.6 364.2L233.1 362.2L233.6 363.0L234.1 361.1L234.6 362.9L235.1 362.2L235.6 363.4L236.1 365.7L236.6 366.7L237.1 364.6L237.6 362.9L238.1 364.3L238.6 363.4L239.1 362.1L239.6 363.1L240.0 362.8L240.5 362.3L241.0 365.5" fill="none" stroke="#767676" stroke-width="1.5" stroke-linejoin="round" stroke-linecap="round"/>
<path d="M55.6 240.4L56.1 240.1L56.5 240.1L57.0 240.1L57.5 240.0L57.9 239.7L58.4 239.4L58.9 239.2L59.3 239.2L59.7 239.1L60.1 238.5L60.4 237.8L60.7 237.5L61.0 237.6L61.4 237.0L61.8 236.3L62.2 236.3L62.6 235.8L63.0 235.7L63.5 235.7L64.0 235.8L64.5 236.3L64.9 236.5L65.2 236.7L65.6 237.3L65.9 237.7L66.3 237.6L66.6 238.2L66.9 238.5L67.1 239.1L67.4 239.3L67.6 240.0L67.8 240.4L68.1 240.8L68.3 241.1L68.5 241.7L68.7 242.0L68.9 242.4L69.1 243.2L69.2 243.4L69.4 244.4L69.6 244.8L69.8 244.6L70.0 245.6L70.2 245.7L70.4 246.4L70.6 246.9L70.8 246.9L70.9 247.8L71.1 248.2L71.3 249.0L71.5 248.9L71.7 249.9L71.8 249.9L72.0 250.6L72.2 250.9L72.3 251.9L72.5 252.2L72.7 253.1L72.8 253.2L73.0 253.7L73.2 254.2L73.3 254.2L73.5 254.9L73.7 255.7L73.8 255.7L74.0 256.3L74.2 256.8L74.3 257.4L74.5 257.6L74.7 258.1L74.8 258.7L75.0 259.2L75.1 259.4L75.3 260.3L75.5 260.2L75.6 260.7L75.8 261.1L75.9 262.2L76.1 262.4L76.2 262.7L76.3 263.1L76.5 264.0L76.6 264.1L76.7 264.5L76.8 265.5L77.0 265.5L77.1 266.2L77.2 266.8L77.3 267.2L77.4 267.8L77.5 268.7L77.6 268.6L77.7 268.9L77.8 269.2L77.9 270.2L78.0 270.6L78.1 271.3L78.2 271.6L78.3 272.1L78.4 272.5L78.5 273.0L78.6 273.7L78.7 274.0L78.8 274.7L78.9 275.7L79.0 275.8L79.1 275.6L79.2 277.1L79.3 277.2L79.4 277.3L79.5 278.3L79.7 278.6L79.8 278.9L79.9 279.3L80.0 279.7L80.1 280.5L80.2 281.3L80.3 281.4L80.4 282.1L80.5 283.1L80.6 282.5L80.8 283.5L80.9 283.8L81.0 284.0L81.1 284.5L81.2 285.4L81.3 286.0L81.4 286.2L81.5 286.9L81.6 287.6L81.7 288.0L81.8 288.7L81.9 289.0L82.0 289.5L82.1 290.6L82.2 290.6L82.3 290.8L82.4 291.6L82.5 291.3L82.6 292.1L82.7 293.1L82.7 293.5L82.8 294.5L82.9 294.2L83.0 294.0L83.1 296.2L83.2 296.3L83.3 295.6L83.3 297.4L83.4 297.2L83.5 296.7L83.6 297.9L83.7 298.4L83.8 300.0L83.9 299.2L84.0 300.0L84.1 300.5L84.2 300.9L84.2 301.1L84.3 302.2L84.4 303.2L84.5 303.5L84.6 303.0L84.8 303.3L84.9 304.6L85.0 304.6L85.1 305.1L85.2 304.9L85.3 307.8L85.4 307.6L85.5 306.8L85.6 308.6L85.7 309.4L85.8 307.2L85.9 309.0L86.1 309.6L86.2 310.9L86.3 310.8L86.4 311.2L86.5 311.8L86.6 313.7L86.8 314.5L86.9 312.9L87.0 313.0L87.2 316.4L87.3 314.0L87.4 314.8L87.6 315.7L87.7 316.6L87.9 317.5L88.0 317.5L88.1 316.9L88.3 318.5L88.5 318.8L88.6 320.7L88.8 319.5L88.9 318.8L89.1 319.5L89.3 322.3L89.4 320.9L89.6 319.8L89.8 321.8L89.9 322.8L90.1 324.5L90.3 322.7L90.5 324.9L90.7 325.5L90.9 324.4L91.1 325.4L91.3 327.8L91.5 328.2L91.7 327.8L91.9 327.7L92.2 329.0L92.4 328.2L92.6 328.6L92.9 328.3L93.1 329.6L93.3 330.0L93.6 333.3L93.8 330.7L94.1 332.7L94.4 333.1L94.6 332.0L94.9 333.8L95.2 330.8L95.5 333.5L95.7 334.8L96.0 331.8L96.3 333.5L96.6 336.2L96.9 335.2L97.2 334.7L97.5 335.9L97.8 336.1L98.1 337.9L98.4 338.0L98.7 337.6L99.0 337.6L99.3 338.6L99.7 340.5L100.0 339.8L100.3 340.5L100.7 340.0L101.0 339.1L101.4 340.1L101.7 341.9L102.1 341.7L102.4 340.9L102.8 340.5L103.1 342.7L103.5 342.6L103.9 342.9L104.3 343.3L104.6 344.3L105.0 344.6L105.4 345.7L105.8 346.0L106.2 346.7L106.5 346.5L106.9 345.5L107.3 346.1L107.7 347.1L108.1 346.5L108.5 347.7L108.9 348.7L109.3 346.8L109.7 346.0L110.1 349.7L110.5 348.6L110.9 349.7L111.3 347.7L111.7 351.5L112.1 350.7L112.5 349.9L112.9 350.0L113.4 350.8L113.8 350.7L114.2 350.9L114.6 350.1L115.0 353.2L115.5 351.9L115.9 352.3L116.3 352.6L116.7 349.9L117.2 353.7L117.6 352.9L118.0 353.2L118.5 353.9L118.9 352.8L119.4 355.3L119.8 353.6L120.2 353.6L120.7 353.9L121.1 355.4L121.6 356.3L122.0 354.9L122.5 354.0L122.9 357.4L123.4 355.0L123.8 358.0L124.3 356.7L124.7 356.1L125.2 356.4L125.6 358.0L126.1 358.7L126.5 357.5L127.0 359.2L127.4 360.9L127.9 358.2L128.3 357.1L128.8 357.5L129.3 357.2L129.7 358.4L130.2 358.5L130.6 357.9L131.1 360.5L131.6 356.6L132.0 358.5L132.5 363.0L132.9 361.9L133.4 361.5L133.9 361.6L134.3 363.5L134.8 362.1L135.2 361.7L135.7 360.2L136.2 361.8L136.6 361.2L137.1 361.4L137.6 361.6L138.0 362.6L138.5 362.5L139.0 364.2L139.4 361.5L139.9 363.2L140.4 366.0L140.8 363.8L141.3 365.5L141.8 365.6L142.2 366.0L142.7 365.5L143.2 362.9L143.6 364.5L144.1 364.5L144.6 363.2L145.0 364.7L145.5 363.9L146.0 363.5L146.5 366.1L146.9 365.9L147.4 365.2L147.9 365.1L148.4 365.7L148.8 366.1L149.3 366.2L149.8 366.8L150.3 366.5L150.8 367.7L151.2 368.0L151.7 367.9L152.2 366.7L152.7 366.9L153.2 368.4L153.7 367.7L154.1 368.0L154.6 364.9L155.1 364.7L155.6 368.8L156.1 368.9L156.6 370.4L157.1 369.6L157.6 369.0L158.1 368.9L158.6 367.1L159.0 370.2L159.5 368.3L160.0 369.8L160.5 369.5L161.0 369.7L161.5 370.6L162.0 368.9L162.5 369.1L163.0 368.6L163.5 369.3L164.0 372.0L164.5 369.4L165.0 371.5L165.5 371.1L166.0 371.1L166.5 371.2L167.0 369.0L167.4 370.8L167.9 372.5L168.4 369.6L168.9 370.5L169.4 369.7L169.9 371.1L170.4 369.4L170.9 372.9L171.4 370.4L171.9 369.0L172.4 373.4L172.9 372.4L173.4 371.9L173.9 372.0L174.4 370.9L174.9 371.2L175.4 372.5L175.8 372.8L176.3 372.9L176.8 372.1L177.3 371.3L177.8 371.8L178.3 373.5L178.8 374.1L179.3 371.9L179.8 371.8L180.3 374.1L180.8 373.5L181.2 373.6L181.7 371.1L182.2 372.4L182.7 372.3L183.2 373.3L183.7 370.9L184.2 374.8L184.7 373.7L185.2 373.9L185.7 371.9L186.2 373.5L186.7 375.3L187.2 371.6L187.7 374.1L188.2 374.7L188.7 372.9L189.2 374.9L189.7 373.5L190.1 375.6L190.6 374.7L191.1 374.4L191.6 376.8L192.1 375.3L192.6 376.0L193.1 372.8L193.6 373.5L194.1 375.5L194.6 375.6L195.1 374.4L195.6 375.5L196.1 373.2L196.6 374.9L197.1 373.2L197.6 375.1L198.1 374.1L198.6 373.9L199.1 374.9L199.6 377.2L200.1 373.6L200.6 374.2L201.1 376.4L201.6 374.5L202.1 377.4L202.6 375.4L203.1 375.2L203.6 375.6L204.1 377.5L204.6 376.1L205.1 375.9L205.6 375.6L206.1 373.3L206.6 374.2L207.1 377.3L207.6 376.5L208.1 376.1L208.6 376.3L209.1 374.8L209.6 376.0L210.1 374.5L210.6 376.2L211.1 374.8L211.6 375.4L212.1 376.3L212.6 375.4L213.1 376.7L213.6 376.5L214.1 376.4L214.6 377.6L215.1 374.0L215.6 373.9L216.1 376.8L216.6 377.3L217.1 378.7L217.6 377.1L218.1 377.2L218.6 375.0L219.1 377.2L219.6 377.1L220.1 374.9L220.6 375.1L221.1 376.2L221.6 376.8L222.1 372.6L222.6 376.5L223.1 376.8L223.6 376.3L224.1 376.9L224.6 377.2L225.0 375.3L225.5 377.2L226.0 376.3L226.5 375.5L227.0 377.0L227.5 378.7L228.0 374.9L228.5 374.7L229.0 374.7L229.5 379.5L230.0 376.6L230.5 376.9L231.0 376.0L231.5 375.8L232.0 374.4L232.5 377.3L233.0 377.5L233.5 374.6L234.0 375.8L234.5 376.3L235.0 377.2L235.5 377.6L236.0 378.8L236.5 379.1L237.0 378.8L237.5 379.2L238.0 375.9L238.5 376.8L239.0 379.0L239.5 377.9L240.0 377.6L240.5 375.1L241.0 375.3" fill="none" stroke="#4a4a4a" stroke-width="1.3" stroke-linejoin="round" stroke-linecap="round"/>
<path d="M55.6 240.7L56.1 240.6L56.5 239.8L57.0 240.0L57.5 240.0L58.0 239.9L58.4 239.6L58.9 239.6L59.3 239.1L59.7 238.9L60.1 238.4L60.3 237.8L60.6 237.4L60.9 237.2L61.2 236.7L61.5 236.6L61.9 236.3L62.2 236.0L62.7 235.4L63.1 235.7L63.6 235.5L64.0 235.8L64.4 236.3L64.7 236.7L65.1 236.7L65.4 237.0L65.7 237.9L65.9 238.1L66.1 239.0L66.4 239.2L66.6 239.7L66.7 240.1L66.9 240.7L67.1 241.0L67.3 241.7L67.5 241.8L67.6 242.4L67.8 242.7L68.0 243.5L68.2 243.8L68.4 244.1L68.6 245.2L68.7 245.1L68.9 245.6L69.1 246.2L69.3 247.0L69.5 247.0L69.6 247.7L69.8 248.0L70.0 248.1L70.2 249.1L70.3 249.6L70.5 249.8L70.6 250.3L70.8 250.5L70.9 250.9L71.1 251.7L71.2 252.4L71.3 252.6L71.5 253.3L71.6 254.0L71.7 254.2L71.8 254.8L71.9 255.5L72.0 255.4L72.1 256.3L72.2 256.2L72.4 257.2L72.5 257.7L72.6 258.0L72.7 258.3L72.8 259.1L72.9 259.5L73.0 260.1L73.2 260.3L73.3 261.2L73.4 261.2L73.6 261.9L73.7 262.4L73.9 263.3L74.0 263.0L74.1 263.8L74.3 264.7L74.4 264.7L74.5 265.0L74.6 265.9L74.8 266.2L74.9 267.0L75.0 267.1L75.1 267.8L75.2 268.5L75.2 269.1L75.3 269.0L75.4 270.1L75.5 270.0L75.6 270.3L75.7 271.0L75.7 271.8L75.8 272.1L75.9 272.8L76.0 273.3L76.1 273.8L76.2 274.1L76.3 275.2L76.4 274.6L76.5 275.2L76.5 276.0L76.6 276.3L76.7 276.4L76.8 277.4L76.9 277.9L77.0 277.9L77.1 279.3L77.2 280.0L77.3 280.4L77.4 280.4L77.5 281.1L77.6 281.2L77.7 282.1L77.8 282.4L77.9 283.2L78.0 283.4L78.1 284.3L78.2 284.7L78.3 285.4L78.4 285.0L78.5 285.5L78.5 286.6L78.6 286.8L78.7 287.6L78.8 288.0L78.9 288.5L79.0 289.2L79.1 289.6L79.2 290.0L79.3 290.1L79.4 291.4L79.5 291.4L79.6 292.2L79.7 292.5L79.8 293.2L79.8 293.4L79.9 293.9L80.0 294.4L80.1 294.6L80.2 295.1L80.3 295.8L80.4 296.3L80.5 296.5L80.6 298.1L80.7 297.4L80.7 298.2L80.8 299.6L80.9 299.0L81.0 300.0L81.1 300.5L81.2 300.6L81.3 300.6L81.4 301.1L81.5 302.2L81.6 302.8L81.8 302.3L81.9 303.7L82.0 303.9L82.1 305.0L82.2 305.2L82.3 305.2L82.4 305.9L82.6 306.6L82.7 307.7L82.8 309.1L82.9 308.2L83.0 308.6L83.1 309.4L83.3 309.5L83.4 310.4L83.5 310.7L83.6 311.0L83.8 311.0L83.9 312.0L84.0 313.0L84.2 313.0L84.3 314.3L84.5 314.5L84.6 314.3L84.8 315.9L84.9 314.6L85.1 316.6L85.3 317.5L85.5 316.5L85.6 317.1L85.8 318.3L86.0 319.2L86.2 318.9L86.4 319.2L86.6 320.2L86.8 320.2L87.1 319.5L87.3 320.7L87.5 321.3L87.7 320.5L88.0 322.6L88.2 322.0L88.4 323.8L88.6 322.2L88.9 323.1L89.1 323.1L89.3 326.1L89.6 326.6L89.8 327.2L90.0 327.7L90.3 327.6L90.5 328.0L90.7 325.8L91.0 328.3L91.2 327.9L91.4 328.5L91.7 328.1L91.9 331.1L92.2 330.3L92.4 329.1L92.7 331.6L92.9 331.4L93.2 330.8L93.4 332.0L93.7 331.9L94.0 330.8L94.2 332.0L94.5 334.5L94.8 334.7L95.0 335.0L95.3 334.0L95.6 335.0L95.9 336.1L96.1 337.1L96.4 336.0L96.7 336.1L97.0 338.9L97.3 338.1L97.6 338.1L97.9 338.1L98.2 338.5L98.5 341.3L98.8 341.0L99.2 339.9L99.5 339.4L99.9 342.9L100.2 343.2L100.6 343.1L100.9 343.1L101.3 340.5L101.7 341.4L102.0 343.8L102.4 343.2L102.8 344.1L103.2 343.6L103.6 343.7L104.0 345.4L104.4 344.6L104.8 345.4L105.1 346.0L105.5 346.3L105.9 347.6L106.3 348.1L106.7 345.4L107.2 346.9L107.6 346.8L108.0 348.6L108.4 346.8L108.8 349.2L109.2 349.4L109.6 349.6L110.0 348.1L110.4 349.2L110.8 348.5L111.3 350.5L111.7 351.4L112.1 348.8L112.5 349.9L113.0 350.9L113.4 350.7L113.8 353.3L114.3 351.7L114.7 352.4L115.1 351.0L115.6 354.4L116.0 353.0L116.5 353.9L116.9 353.3L117.4 350.9L117.8 351.7L118.3 352.3L118.8 354.6L119.2 353.6L119.7 354.9L120.2 354.9L120.6 355.0L121.1 356.0L121.6 355.3L122.0 353.2L122.5 354.5L123.0 357.6L123.5 354.4L123.9 357.6L124.4 358.1L124.9 355.4L125.4 356.7L125.8 354.7L126.3 357.6L126.8 355.8L127.3 355.2L127.8 356.6L128.2 356.6L128.7 356.6L129.2 357.8L129.7 357.4L130.1 356.9L130.6 359.2L131.1 361.2L131.6 358.3L132.1 357.4L132.6 357.2L133.0 359.3L133.5 358.4L134.0 358.9L134.5 356.4L135.0 357.6L135.5 357.7L135.9 360.6L136.4 359.1L136.9 356.4L137.4 360.4L137.9 361.3L138.4 361.7L138.8 356.5L139.3 360.4L139.8 361.4L140.3 361.3L140.8 360.3L141.2 358.4L141.7 360.4L142.2 360.6L142.7 361.9L143.2 362.2L143.7 361.2L144.1 362.7L144.6 360.4L145.1 361.0L145.6 362.0L146.1 362.9L146.5 361.9L147.0 364.0L147.5 363.1L148.0 361.4L148.5 362.9L149.0 361.8L149.4 361.8L149.9 361.3L150.4 365.1L150.9 364.6L151.4 361.5L151.9 365.1L152.3 365.1L152.8 363.5L153.3 364.7L153.8 367.1L154.3 364.7L154.8 364.9L155.3 366.0L155.8 363.3L156.2 363.1L156.7 363.0L157.2 364.8L157.7 366.1L158.2 364.0L158.7 363.4L159.2 365.5L159.7 364.9L160.2 366.2L160.7 365.4L161.2 365.4L161.7 365.6L162.2 365.8L162.7 364.5L163.2 364.4L163.7 368.0L164.1 370.0L164.6 367.5L165.1 364.0L165.6 366.2L166.1 367.7L166.6 364.1L167.1 365.6L167.6 365.8L168.1 365.2L168.6 365.3L169.1 367.8L169.6 365.9L170.1 366.2L170.6 368.8L171.1 365.5L171.6 364.2L172.1 367.6L172.6 369.4L173.1 367.1L173.6 367.3L174.1 365.3L174.6 365.8L175.1 369.0L175.6 368.8L176.1 368.0L176.6 366.5L177.1 365.8L177.6 366.1L178.1 366.0L178.6 368.4L179.0 366.6L179.5 367.1L180.0 368.7L180.5 368.8L181.0 368.1L181.5 368.7L182.0 368.2L182.5 365.7L183.0 368.2L183.5 367.8L184.0 368.0L184.5 368.8L185.0 367.8L185.5 370.2L186.0 368.5L186.5 369.0L187.0 369.3L187.4 368.7L187.9 369.8L188.4 370.0L188.9 369.9L189.4 368.2L189.9 368.0L190.4 368.4L190.9 369.2L191.4 366.8L191.9 368.2L192.4 367.8L192.9 368.5L193.4 368.2L193.9 370.5L194.4 370.1L194.9 370.8L195.4 368.3L195.9 368.6L196.4 369.2L196.9 371.8L197.4 371.9L197.9 368.9L198.4 370.6L198.9 372.6L199.4 368.5L199.9 369.6L200.4 371.6L200.9 370.9L201.4 368.7L201.9 372.0L202.4 371.3L202.9 370.9L203.4 368.5L203.9 369.9L204.4 371.9L204.9 370.8L205.4 371.2L205.9 369.9L206.4 372.2L206.9 370.0L207.4 371.5L207.9 370.7L208.4 369.1L208.9 372.3L209.4 368.8L209.9 369.5L210.4 370.6L210.9 368.7L211.4 368.2L211.9 370.4L212.4 370.0L212.9 370.2L213.4 371.3L213.9 373.6L214.4 370.1L214.9 373.9L215.4 371.0L215.9 370.6L216.4 367.2L216.9 368.8L217.4 371.1L217.9 371.5L218.4 369.7L218.9 371.2L219.4 372.0L219.9 370.1L220.4 368.8L220.9 369.6L221.4 370.6L221.9 371.3L222.4 372.0L222.9 369.8L223.4 371.1L223.9 370.7L224.4 371.1L224.9 372.5L225.4 372.8L225.9 370.5L226.4 370.4L226.9 370.3L227.4 370.5L227.9 370.7L228.4 371.1L228.9 370.7L229.4 369.9L229.9 369.8L230.4 371.5L230.9 374.6L231.4 372.2L231.9 372.3L232.4 371.9L232.9 371.3L233.4 374.1L233.9 371.2L234.4 370.3L234.9 370.0L235.4 371.9L235.9 370.4L236.4 370.6L236.9 370.6L237.4 370.0L237.9 372.0L238.4 369.6L238.9 374.8L239.4 368.3L239.9 370.1L240.4 372.0L240.9 372.5" fill="none" stroke="#111" stroke-width="1.6" stroke-linejoin="round" stroke-linecap="round"/>
<path d="M56.6 465.0L57.0 464.7L57.4 464.4L57.8 464.0L58.2 463.7L58.5 463.3L58.9 463.1L59.1 462.9L59.4 462.1L59.7 461.7L59.9 461.4L60.2 461.0L60.5 460.5L60.8 460.0L61.0 459.7L61.3 459.4L61.6 458.6L62.0 458.4L62.4 458.0L62.9 458.1L63.3 458.2L63.8 458.8L64.1 458.9L64.4 459.6L64.7 460.0L65.0 460.3L65.3 460.3L65.5 461.1L65.7 461.6L65.9 462.1L66.1 462.3L66.3 462.9L66.5 463.3L66.6 463.8L66.8 464.7L67.0 464.8L67.1 465.4L67.3 466.1L67.4 466.2L67.6 466.8L67.7 467.3L67.9 467.8L68.0 468.0L68.2 468.8L68.3 469.5L68.5 469.4L68.7 470.4L68.8 470.7L69.0 471.0L69.1 472.0L69.3 472.2L69.5 472.3L69.7 473.0L69.9 473.6L70.0 473.9L70.2 474.5L70.4 474.8L70.6 475.5L70.8 476.1L71.0 476.1L71.2 476.7L71.4 477.1L71.6 477.6L71.7 477.8L71.9 478.4L72.1 479.0L72.3 479.7L72.5 480.2L72.7 480.1L72.9 480.7L73.1 481.5L73.2 481.3L73.4 482.1L73.6 482.7L73.8 483.5L73.9 483.8L74.1 484.1L74.3 484.5L74.5 485.0L74.6 485.9L74.8 485.9L75.0 486.4L75.1 487.0L75.3 487.4L75.5 487.9L75.6 488.1L75.8 488.8L75.9 489.2L76.1 490.1L76.3 490.4L76.4 490.7L76.6 491.4L76.7 491.6L76.9 492.4L77.1 492.6L77.2 493.3L77.4 493.3L77.5 494.2L77.7 494.1L77.8 494.5L78.0 495.4L78.1 495.7L78.3 496.5L78.4 497.5L78.6 497.2L78.8 497.7L78.9 498.4L79.1 499.0L79.2 499.3L79.4 499.7L79.5 500.4L79.6 500.9L79.8 500.9L79.9 501.7L80.1 502.2L80.2 502.4L80.3 503.2L80.5 503.4L80.6 504.4L80.7 504.6L80.8 505.1L80.9 505.4L81.0 506.0L81.1 506.0L81.2 506.7L81.3 507.6L81.4 507.4L81.5 508.8L81.5 508.5L81.6 509.7L81.7 509.8L81.7 510.7L81.8 511.0L81.9 511.1L82.0 512.3L82.0 512.9L82.1 513.0L82.2 513.4L82.3 513.9L82.4 514.2L82.5 515.3L82.6 515.3L82.7 515.9L82.8 516.2L82.9 516.7L83.0 517.0L83.1 518.2L83.3 518.3L83.4 519.1L83.5 519.3L83.6 519.6L83.7 520.2L83.9 520.6L84.0 521.3L84.1 521.6L84.2 522.1L84.4 522.3L84.5 523.0L84.6 524.2L84.8 524.0L84.9 524.3L85.0 525.2L85.2 526.0L85.3 525.6L85.4 526.5L85.6 526.8L85.7 526.9L85.8 528.3L85.9 528.5L86.1 529.0L86.2 529.2L86.3 530.1L86.5 530.2L86.6 530.9L86.7 530.9L86.9 531.3L87.0 533.0L87.1 532.6L87.3 533.5L87.4 533.8L87.6 534.0L87.7 534.5L87.9 535.6L88.0 535.5L88.2 536.1L88.3 536.7L88.5 537.9L88.7 538.0L88.8 538.3L89.0 538.2L89.2 538.1L89.4 540.1L89.5 540.6L89.7 540.3L89.9 541.3L90.1 541.9L90.3 542.4L90.5 543.0L90.7 542.3L90.9 544.4L91.1 542.6L91.3 544.8L91.5 545.0L91.7 545.8L91.9 547.2L92.2 547.3L92.4 545.2L92.6 545.1L92.8 548.0L93.1 546.6L93.3 548.1L93.6 549.4L93.8 547.2L94.1 547.0L94.3 550.1L94.6 550.3L94.9 550.4L95.1 551.1L95.4 550.5L95.7 550.1L96.0 552.1L96.3 551.6L96.6 551.1L96.9 554.2L97.2 553.9L97.5 554.8L97.8 553.5L98.1 554.3L98.4 554.3L98.7 554.8L99.0 556.5L99.4 555.7L99.7 557.5L100.0 557.9L100.3 560.3L100.7 556.4L101.0 559.7L101.4 558.8L101.7 559.3L102.0 557.8L102.4 559.4L102.8 561.3L103.1 560.6L103.5 561.1L103.8 561.0L104.2 563.2L104.6 562.0L104.9 559.6L105.3 561.8L105.7 560.5L106.1 559.2L106.5 563.0L106.8 565.8L107.2 564.4L107.6 563.1L108.0 563.7L108.4 566.8L108.8 565.8L109.2 566.0L109.6 566.1L110.0 566.5L110.4 567.9L110.8 567.8L111.2 567.6L111.6 566.2L112.0 568.6L112.5 567.3L112.9 569.9L113.3 567.0L113.7 568.8L114.2 569.2L114.6 567.6L115.1 572.0L115.5 571.9L116.0 569.5L116.4 571.4L116.9 571.0L117.3 567.1L117.8 571.2L118.3 571.0L118.7 571.4L119.2 569.9L119.7 571.2L120.2 571.5L120.6 573.6L121.1 572.6L121.6 572.2L122.0 574.6L122.5 571.8L123.0 572.2L123.5 570.3L123.9 575.4L124.4 574.6L124.9 574.7L125.3 574.5L125.8 573.9L126.3 574.2L126.8 573.6L127.3 573.9L127.7 574.4L128.2 576.7L128.7 575.4L129.2 574.7L129.6 574.0L130.1 574.1L130.6 577.6L131.1 576.1L131.6 575.6L132.0 575.1L132.5 574.1L133.0 575.8L133.5 577.3L134.0 575.6L134.4 576.0L134.9 576.1L135.4 576.8L135.9 574.4L136.3 576.6L136.8 575.8L137.3 578.6L137.8 576.2L138.2 578.4L138.7 580.0L139.2 577.4L139.7 577.1L140.2 578.4L140.6 578.3L141.1 577.0L141.6 579.3L142.1 581.8L142.5 578.5L143.0 578.7L143.5 577.6L144.0 579.8L144.5 577.6L144.9 577.9L145.4 581.6L145.9 578.5L146.4 581.6L146.9 582.4L147.3 580.7L147.8 581.2L148.3 583.5L148.8 580.4L149.3 579.9L149.7 578.9L150.2 581.2L150.7 583.5L151.2 582.8L151.7 580.1L152.2 580.3L152.6 581.0L153.1 582.3L153.6 581.7L154.1 582.5L154.6 582.7L155.1 581.9L155.5 582.4L156.0 582.9L156.5 582.6L157.0 583.6L157.5 585.8L158.0 584.0L158.5 583.3L159.0 580.7L159.4 584.0L159.9 580.6L160.4 581.5L160.9 585.0L161.4 584.8L161.9 583.6L162.4 581.4L162.9 583.5L163.4 583.1L163.9 585.2L164.4 587.7L164.9 584.7L165.3 583.3L165.8 582.8L166.3 584.6L166.8 584.5L167.3 583.1L167.8 585.1L168.3 583.3L168.8 586.7L169.3 586.7L169.8 586.8L170.3 584.6L170.8 586.1L171.3 585.2L171.8 584.9L172.3 585.1L172.8 583.7L173.2 583.6L173.7 587.0L174.2 585.6L174.7 586.3L175.2 587.5L175.7 583.5L176.2 585.0L176.7 586.5L177.2 586.9L177.7 585.8L178.2 588.0L178.7 586.8L179.2 584.7L179.7 585.2L180.2 587.9L180.7 587.4L181.2 584.0L181.7 588.9L182.2 587.8L182.7 589.0L183.2 586.4L183.7 586.6L184.2 585.4L184.7 591.0L185.2 587.0L185.6 589.7L186.1 586.4L186.6 587.6L187.1 584.9L187.6 586.9L188.1 589.0L188.6 585.7L189.1 589.3L189.6 588.2L190.1 586.2L190.6 587.1L191.1 587.2L191.6 587.9L192.1 587.2L192.6 586.8L193.1 587.6L193.6 586.6L194.1 586.3L194.6 588.2L195.1 589.6L195.6 586.1L196.1 588.4L196.6 587.5L197.1 587.0L197.6 589.8L198.1 587.8L198.6 590.9L199.1 587.5L199.6 589.3L200.1 588.5L200.6 587.7L201.1 589.8L201.6 588.7L202.1 589.9L202.6 589.0L203.1 587.5L203.6 589.0L204.0 589.3L204.5 590.7L205.0 587.9L205.5 589.3L206.0 586.8L206.5 590.4L207.0 587.9L207.5 586.8L208.0 589.5L208.5 591.3L209.0 587.4L209.5 588.1L210.0 588.7L210.5 588.2L211.0 590.5L211.5 588.7L212.0 588.9L212.5 590.9L213.0 589.0L213.5 590.8L214.0 588.7L214.5 588.4L215.0 587.5L215.5 593.1L216.0 589.9L216.5 590.8L217.0 590.4L217.5 590.8L218.0 590.7L218.5 593.5L219.0 589.1L219.5 588.4L220.0 589.3L220.5 588.8L221.0 592.0L221.5 592.2L222.0 589.5L222.5 588.9L223.0 590.5L223.5 593.2L224.0 587.0L224.4 592.0L224.9 589.7L225.4 592.9L225.9 589.8L226.4 591.0L226.9 589.2L227.4 590.1L227.9 593.7L228.4 592.9L228.9 591.1L229.4 590.4L229.9 588.9L230.4 591.2L230.9 591.8L231.4 591.8L231.9 591.8L232.4 590.3L232.9 592.0L233.4 592.1L233.9 594.1L234.4 595.0L234.9 592.1L235.4 591.2L235.9 592.3L236.4 591.5L236.9 591.3L237.4 592.4L237.9 591.0L238.4 593.5L238.9 592.5L239.4 593.1L239.9 592.5L240.4 591.7L240.9 591.4" fill="none" stroke="#767676" stroke-width="1.5" stroke-linejoin="round" stroke-linecap="round"/>
<path d="M56.6 464.7L57.0 464.5L57.4 464.2L57.8 464.1L58.2 463.4L58.5 463.4L58.9 462.9L59.2 462.8L59.4 462.4L59.7 462.0L59.9 461.5L60.2 460.9L60.5 460.7L60.7 460.4L61.0 459.5L61.2 459.3L61.5 458.8L61.8 458.7L62.3 458.2L62.7 458.6L63.0 459.1L63.3 459.5L63.6 459.5L63.8 460.3L64.1 460.7L64.3 461.1L64.5 461.6L64.6 462.1L64.8 462.2L64.9 463.4L65.1 463.3L65.2 463.5L65.3 464.5L65.4 465.3L65.6 465.3L65.7 466.3L65.8 466.8L65.9 466.7L66.0 466.9L66.1 467.6L66.2 468.6L66.3 468.7L66.4 469.0L66.5 469.6L66.6 470.3L66.7 470.8L66.8 471.5L67.0 472.0L67.1 472.1L67.2 472.7L67.3 473.0L67.4 473.8L67.6 474.0L67.7 474.4L67.8 475.7L67.9 475.7L68.0 476.3L68.2 477.2L68.3 477.3L68.4 477.6L68.5 478.1L68.7 478.4L68.8 479.3L68.9 479.5L69.0 480.5L69.1 480.5L69.3 480.9L69.4 481.4L69.5 482.1L69.6 482.5L69.7 483.3L69.9 483.3L70.0 484.0L70.1 484.9L70.2 484.8L70.3 485.5L70.5 486.3L70.6 486.5L70.7 486.7L70.8 486.8L71.0 488.4L71.1 488.4L71.2 489.1L71.3 489.2L71.4 490.2L71.6 490.4L71.7 490.7L71.8 491.0L71.9 491.8L72.0 492.1L72.2 492.6L72.3 492.7L72.4 493.5L72.5 494.2L72.6 494.3L72.8 495.1L72.9 495.8L73.0 496.0L73.1 496.4L73.2 496.9L73.4 497.8L73.5 497.6L73.6 498.4L73.7 498.9L73.8 499.5L74.0 499.9L74.1 500.1L74.2 501.5L74.3 501.4L74.5 501.5L74.6 502.1L74.7 502.9L74.8 503.5L75.0 503.5L75.1 504.5L75.2 504.4L75.3 505.1L75.4 506.0L75.6 506.7L75.7 506.7L75.8 507.1L75.9 508.0L76.1 507.9L76.2 508.7L76.3 509.2L76.4 509.9L76.5 510.2L76.6 510.5L76.8 511.3L76.9 511.3L77.0 512.3L77.1 512.4L77.2 512.8L77.3 513.4L77.4 514.0L77.5 514.7L77.6 515.0L77.7 515.7L77.8 516.3L77.9 516.5L78.0 516.7L78.1 517.7L78.2 518.0L78.3 517.8L78.4 518.6L78.5 519.5L78.6 519.5L78.7 520.2L78.9 520.4L79.0 521.5L79.1 521.9L79.2 522.4L79.3 523.3L79.4 523.2L79.6 523.7L79.7 524.9L79.8 524.4L80.0 525.5L80.1 525.3L80.2 526.3L80.4 527.4L80.5 527.3L80.6 527.4L80.8 529.0L80.9 528.4L81.1 529.0L81.2 529.7L81.3 529.5L81.5 531.0L81.6 531.7L81.8 531.8L81.9 532.1L82.1 532.4L82.3 533.3L82.4 531.8L82.6 533.8L82.7 534.5L82.9 533.7L83.0 535.5L83.2 535.7L83.4 536.2L83.5 536.8L83.7 537.5L83.9 537.9L84.0 537.4L84.2 538.5L84.4 538.9L84.5 539.5L84.7 539.6L84.9 541.2L85.1 541.9L85.2 542.6L85.4 543.4L85.6 543.5L85.7 542.4L85.9 542.8L86.1 543.4L86.3 544.7L86.5 544.6L86.6 546.0L86.8 547.1L87.0 545.7L87.2 547.5L87.4 546.6L87.6 546.2L87.8 546.6L88.0 548.0L88.2 546.8L88.4 549.8L88.7 551.3L88.9 548.9L89.1 550.2L89.3 552.8L89.6 551.9L89.8 552.2L90.1 552.1L90.3 554.0L90.5 553.6L90.8 552.4L91.0 551.2L91.3 551.3L91.6 555.8L91.8 555.1L92.1 557.6L92.4 556.9L92.6 555.1L92.9 557.4L93.2 558.9L93.5 556.8L93.8 557.7L94.0 560.9L94.3 557.0L94.6 558.2L94.9 561.2L95.2 560.6L95.6 559.3L95.9 559.3L96.2 562.1L96.5 563.4L96.8 563.3L97.2 563.1L97.5 564.9L97.8 563.8L98.2 562.7L98.5 566.7L98.9 562.9L99.2 564.6L99.6 565.1L99.9 567.3L100.3 564.9L100.6 565.9L101.0 564.3L101.4 567.3L101.7 567.8L102.1 568.4L102.5 566.7L102.8 568.6L103.2 567.4L103.6 568.3L104.0 569.1L104.3 571.3L104.7 569.3L105.1 570.4L105.5 569.4L105.9 570.1L106.3 570.2L106.7 571.2L107.1 572.8L107.5 570.6L107.9 573.3L108.3 571.4L108.7 573.4L109.1 572.5L109.5 573.1L109.9 573.3L110.3 575.5L110.8 574.7L111.2 576.0L111.6 574.3L112.0 574.8L112.5 577.6L112.9 573.3L113.3 574.6L113.8 575.8L114.2 578.8L114.7 575.7L115.1 577.9L115.6 579.2L116.0 576.9L116.5 577.2L116.9 580.0L117.4 577.1L117.8 576.6L118.3 579.4L118.7 577.7L119.2 580.5L119.6 579.7L120.1 576.6L120.5 579.7L121.0 579.5L121.5 578.8L121.9 581.5L122.4 577.6L122.8 578.5L123.3 579.8L123.7 581.9L124.2 578.7L124.6 580.2L125.1 580.3L125.6 579.3L126.0 581.2L126.5 580.2L126.9 581.5L127.4 582.8L127.9 581.2L128.3 581.4L128.8 581.4L129.2 581.8L129.7 580.9L130.2 581.7L130.6 583.8L131.1 582.5L131.6 588.9L132.0 583.0L132.5 585.1L133.0 582.3L133.4 584.3L133.9 584.1L134.4 585.0L134.8 587.2L135.3 585.2L135.8 583.8L136.3 585.9L136.7 584.5L137.2 585.9L137.7 588.7L138.1 587.9L138.6 588.2L139.1 587.6L139.6 586.9L140.0 584.8L140.5 586.5L141.0 586.6L141.5 588.6L141.9 589.2L142.4 588.6L142.9 586.8L143.4 590.9L143.9 590.4L144.3 588.1L144.8 588.9L145.3 589.7L145.8 589.0L146.3 588.8L146.7 589.9L147.2 589.3L147.7 589.7L148.2 587.1L148.7 587.2L149.2 592.4L149.6 587.6L150.1 590.8L150.6 590.6L151.1 590.6L151.6 589.3L152.1 592.0L152.6 591.1L153.0 590.2L153.5 588.7L154.0 590.6L154.5 590.2L155.0 589.3L155.5 591.8L156.0 592.2L156.5 592.7L156.9 591.8L157.4 591.3L157.9 593.5L158.4 593.0L158.9 595.4L159.4 592.9L159.9 590.8L160.4 593.7L160.9 595.9L161.4 592.9L161.9 592.3L162.3 591.8L162.8 595.6L163.3 592.6L163.8 592.6L164.3 593.5L164.8 591.0L165.3 592.8L165.8 591.4L166.3 593.2L166.8 594.3L167.3 595.0L167.8 593.1L168.2 595.0L168.7 593.3L169.2 591.5L169.7 594.9L170.2 593.9L170.7 594.4L171.2 590.4L171.7 594.8L172.2 594.9L172.7 595.0L173.2 596.3L173.7 594.3L174.1 598.2L174.6 596.1L175.1 596.0L175.6 591.5L176.1 592.4L176.6 597.7L177.1 596.1L177.6 597.1L178.1 595.2L178.5 595.7L179.0 596.9L179.5 594.9L180.0 598.2L180.5 594.7L181.0 596.8L181.5 596.2L182.0 597.2L182.5 598.7L182.9 595.2L183.4 597.7L183.9 597.3L184.4 598.5L184.9 597.3L185.4 596.7L185.9 598.2L186.4 599.6L186.9 598.9L187.4 598.0L187.9 598.5L188.4 595.6L188.9 597.2L189.3 597.7L189.8 597.3L190.3 597.1L190.8 598.2L191.3 598.9L191.8 601.3L192.3 597.4L192.8 597.2L193.3 600.1L193.8 598.9L194.3 597.4L194.8 601.1L195.3 598.5L195.8 598.4L196.3 598.1L196.8 597.6L197.3 599.2L197.8 597.7L198.3 602.9L198.8 599.8L199.3 598.9L199.8 598.2L200.3 599.8L200.8 601.0L201.3 599.9L201.7 597.9L202.2 599.3L202.7 597.1L203.2 601.9L203.7 600.8L204.2 600.1L204.7 600.3L205.2 599.1L205.7 599.8L206.2 601.5L206.7 600.0L207.2 601.0L207.7 600.5L208.2 600.6L208.7 600.8L209.2 601.9L209.7 600.0L210.2 601.5L210.7 599.3L211.2 599.7L211.7 599.6L212.2 602.0L212.7 600.3L213.2 602.6L213.7 599.3L214.2 601.5L214.7 599.2L215.2 602.7L215.7 600.0L216.2 601.8L216.7 600.1L217.2 600.1L217.7 601.6L218.2 598.7L218.7 599.6L219.2 603.7L219.6 600.2L220.1 602.7L220.6 600.3L221.1 599.1L221.6 601.0L222.1 603.0L222.6 601.7L223.1 601.4L223.6 603.1L224.1 600.8L224.6 603.0L225.1 602.5L225.6 600.5L226.1 603.5L226.6 603.8L227.1 601.8L227.6 602.4L228.1 601.9L228.6 600.6L229.1 603.6L229.6 600.9L230.1 603.3L230.6 601.7L231.1 601.0L231.6 603.5L232.1 603.0L232.6 605.5L233.1 602.7L233.6 603.0L234.1 603.0L234.6 602.6L235.1 605.0L235.6 605.3L236.1 604.1L236.6 601.6L237.1 603.9L237.6 603.3L238.1 602.6L238.6 601.0L239.0 604.7L239.5 605.3L240.0 604.0L240.5 604.3L241.0 606.3" fill="none" stroke="#4a4a4a" stroke-width="1.3" stroke-linejoin="round" stroke-linecap="round"/>
<path d="M56.6 464.9L57.0 464.7L57.4 464.2L57.8 464.2L58.2 464.0L58.5 463.4L58.9 463.1L59.2 462.7L59.4 462.2L59.7 461.7L59.9 461.0L60.2 461.2L60.5 460.5L60.7 460.6L61.0 459.8L61.2 459.3L61.5 458.7L61.8 458.7L62.3 458.3L62.6 459.0L62.9 459.0L63.2 459.6L63.4 459.7L63.6 460.9L63.8 460.9L64.0 461.3L64.1 462.0L64.3 462.2L64.4 463.0L64.5 463.1L64.7 463.9L64.8 464.1L64.9 464.4L65.0 465.1L65.1 465.4L65.2 466.3L65.3 466.7L65.4 467.3L65.5 467.7L65.6 468.1L65.7 468.7L65.9 469.4L66.0 469.6L66.1 470.0L66.2 470.4L66.3 471.1L66.4 471.4L66.5 472.5L66.6 472.3L66.8 472.8L66.9 473.5L67.0 474.2L67.1 474.4L67.2 474.8L67.4 475.3L67.5 475.9L67.6 476.7L67.7 476.7L67.9 477.4L68.0 477.8L68.1 478.5L68.2 479.0L68.3 479.0L68.5 480.4L68.6 480.4L68.7 480.7L68.8 481.1L68.9 481.7L69.1 482.3L69.2 482.9L69.3 483.2L69.4 483.8L69.6 483.8L69.7 484.5L69.8 484.9L69.9 485.7L70.0 486.3L70.2 486.3L70.3 487.1L70.4 487.8L70.5 488.3L70.6 488.3L70.8 489.2L70.9 489.6L71.0 489.9L71.1 491.0L71.2 490.7L71.4 491.4L71.5 492.1L71.6 492.5L71.7 492.9L71.8 493.8L72.0 494.3L72.1 494.6L72.2 495.1L72.3 495.4L72.4 495.6L72.6 496.9L72.7 496.6L72.8 497.9L72.9 497.8L73.0 498.3L73.2 498.7L73.3 499.5L73.4 499.6L73.5 500.7L73.7 500.8L73.8 501.2L73.9 501.5L74.0 502.2L74.2 502.6L74.3 503.6L74.4 503.9L74.5 503.7L74.7 505.0L74.8 504.4L74.9 506.0L75.0 505.5L75.1 506.5L75.3 507.2L75.4 507.5L75.5 507.7L75.6 508.8L75.8 508.5L75.9 509.0L76.0 510.3L76.1 510.2L76.2 511.0L76.3 511.6L76.4 511.8L76.5 512.4L76.6 512.9L76.7 513.4L76.8 514.2L76.9 514.6L77.0 514.9L77.1 515.6L77.2 515.6L77.3 516.1L77.4 516.5L77.4 517.5L77.5 518.2L77.7 518.3L77.8 518.2L77.9 519.1L78.0 519.8L78.1 520.3L78.2 520.7L78.3 521.5L78.4 521.9L78.5 521.8L78.6 522.8L78.7 522.9L78.9 523.7L79.0 524.5L79.1 525.1L79.2 525.3L79.3 525.4L79.5 525.9L79.6 526.7L79.7 526.7L79.9 527.5L80.0 528.1L80.1 528.7L80.3 528.8L80.4 529.5L80.5 530.4L80.7 530.5L80.8 530.2L81.0 531.4L81.1 531.9L81.2 532.1L81.4 532.8L81.5 532.6L81.7 534.3L81.8 534.4L82.0 534.4L82.1 535.3L82.3 535.7L82.5 535.6L82.6 535.1L82.8 535.5L82.9 538.7L83.1 537.3L83.3 538.3L83.4 539.3L83.6 539.2L83.8 540.6L83.9 539.7L84.1 541.2L84.3 539.9L84.4 542.3L84.6 542.7L84.8 543.0L84.9 543.4L85.1 543.8L85.3 544.8L85.5 545.3L85.7 544.3L85.9 546.4L86.0 545.2L86.2 546.6L86.4 546.7L86.6 547.8L86.8 547.5L87.0 548.6L87.3 548.3L87.5 548.2L87.7 550.7L87.9 550.6L88.2 551.0L88.4 551.9L88.6 550.2L88.9 552.8L89.1 551.1L89.4 553.1L89.6 552.9L89.9 553.9L90.1 554.8L90.4 554.4L90.7 553.7L90.9 556.4L91.2 557.1L91.5 556.9L91.8 557.7L92.1 554.7L92.4 557.4L92.7 557.6L93.0 555.7L93.3 558.6L93.6 558.9L93.9 557.4L94.2 558.6L94.5 560.1L94.9 561.2L95.2 561.7L95.5 559.8L95.9 560.2L96.2 561.2L96.6 562.2L97.0 561.8L97.3 562.7L97.7 564.1L98.0 564.5L98.4 564.1L98.8 562.8L99.2 564.0L99.5 565.6L99.9 566.4L100.3 566.9L100.7 564.6L101.0 565.7L101.4 565.0L101.8 563.1L102.2 565.8L102.6 565.2L102.9 569.7L103.3 568.8L103.7 567.7L104.1 568.9L104.5 569.7L104.9 571.7L105.3 570.7L105.7 572.0L106.1 571.0L106.5 572.3L106.9 572.8L107.3 572.4L107.7 571.5L108.1 573.2L108.6 571.5L109.0 574.2L109.4 572.2L109.8 571.9L110.3 575.7L110.7 572.8L111.1 573.8L111.6 572.4L112.0 573.1L112.4 573.9L112.9 573.2L113.3 576.5L113.8 574.0L114.2 573.5L114.7 577.0L115.1 576.7L115.6 572.7L116.0 575.3L116.5 577.7L116.9 575.5L117.4 576.4L117.8 576.6L118.3 574.0L118.7 576.1L119.2 578.7L119.7 579.8L120.1 577.9L120.6 578.0L121.0 579.2L121.5 578.8L121.9 579.5L122.4 577.7L122.9 579.2L123.3 580.1L123.8 580.5L124.2 577.5L124.7 581.2L125.2 580.3L125.6 580.6L126.1 578.0L126.5 580.8L127.0 578.6L127.5 577.4L127.9 581.4L128.4 581.5L128.9 581.7L129.3 582.1L129.8 582.0L130.3 583.8L130.8 583.6L131.2 585.0L131.7 586.5L132.2 584.0L132.6 584.2L133.1 586.1L133.6 582.1L134.1 583.0L134.5 584.1L135.0 581.5L135.5 585.4L136.0 586.5L136.4 582.4L136.9 583.2L137.4 586.0L137.9 586.8L138.3 582.4L138.8 585.8L139.3 584.9L139.8 582.5L140.3 584.8L140.7 584.7L141.2 585.9L141.7 585.9L142.2 585.6L142.7 585.9L143.1 586.0L143.6 587.2L144.1 588.0L144.6 588.1L145.1 585.4L145.6 585.7L146.0 586.0L146.5 589.3L147.0 588.0L147.5 586.2L148.0 585.8L148.5 586.1L149.0 587.8L149.4 586.2L149.9 587.9L150.4 590.1L150.9 587.8L151.4 589.5L151.9 586.1L152.4 589.0L152.9 589.0L153.4 587.3L153.9 590.8L154.3 588.8L154.8 587.9L155.3 588.6L155.8 590.5L156.3 587.1L156.8 589.5L157.3 587.9L157.8 589.8L158.3 588.7L158.8 589.5L159.3 590.8L159.8 589.8L160.3 590.6L160.8 590.9L161.3 590.6L161.7 590.4L162.2 590.2L162.7 591.1L163.2 592.0L163.7 593.1L164.2 593.0L164.7 588.9L165.2 590.9L165.7 591.3L166.2 592.4L166.7 592.3L167.2 588.6L167.7 591.2L168.2 588.2L168.7 590.2L169.2 589.5L169.7 590.0L170.2 593.4L170.7 590.2L171.2 590.4L171.7 591.3L172.2 592.8L172.7 588.7L173.2 593.7L173.7 590.2L174.2 589.9L174.7 591.7L175.2 592.5L175.7 595.6L176.2 593.0L176.7 590.8L177.2 591.4L177.6 590.3L178.1 592.8L178.6 593.1L179.1 591.4L179.6 593.7L180.1 589.5L180.6 591.4L181.1 590.7L181.6 591.3L182.1 589.8L182.6 593.7L183.1 590.9L183.6 592.2L184.1 594.2L184.6 594.9L185.1 594.3L185.6 589.2L186.1 592.2L186.6 592.2L187.1 591.7L187.6 591.6L188.1 592.0L188.6 593.8L189.1 592.2L189.6 591.0L190.1 590.7L190.6 593.3L191.1 590.6L191.6 594.3L192.1 592.5L192.6 592.6L193.1 593.7L193.6 592.9L194.1 594.6L194.6 591.6L195.1 590.9L195.6 596.6L196.0 594.0L196.5 589.9L197.0 596.4L197.5 591.7L198.0 597.0L198.5 596.7L199.0 595.4L199.5 594.1L200.0 592.8L200.5 595.6L201.0 593.7L201.5 596.0L202.0 593.9L202.5 592.1L203.0 593.4L203.5 594.6L204.0 593.8L204.5 594.9L205.0 593.3L205.5 597.2L206.0 594.0L206.5 595.7L207.0 592.4L207.5 596.2L208.0 597.4L208.5 596.0L209.0 594.8L209.5 593.8L210.0 596.2L210.5 596.2L211.0 593.4L211.5 595.5L212.0 596.3L212.4 594.4L212.9 596.5L213.4 595.2L213.9 597.9L214.4 593.8L214.9 596.6L215.4 596.0L215.9 593.1L216.4 594.6L216.9 594.7L217.4 597.5L217.9 595.6L218.4 596.2L218.9 596.5L219.4 600.2L219.9 596.0L220.4 599.3L220.9 596.2L221.4 594.1L221.9 595.3L222.4 594.8L222.9 596.1L223.4 594.5L223.9 595.4L224.4 599.7L224.9 597.3L225.4 597.5L225.9 599.7L226.4 594.6L226.9 598.0L227.4 596.5L227.9 597.2L228.4 596.3L228.8 597.5L229.3 599.3L229.8 599.3L230.3 597.9L230.8 598.8L231.3 595.8L231.8 593.3L232.3 599.3L232.8 600.8L233.3 598.5L233.8 597.0L234.3 598.0L234.8 599.8L235.3 596.3L235.8 598.2L236.3 599.1L236.8 596.7L237.3 601.4L237.8 599.6L238.3 600.9L238.8 596.8L239.3 598.8L239.8 600.8L240.3 599.3L240.8 600.6L241.3 595.9" fill="none" stroke="#111" stroke-width="1.6" stroke-linejoin="round" stroke-linecap="round"/>
<path d="M309.2 144.2L309.3 144.7L309.3 145.2L309.4 145.7L309.4 146.2L309.4 146.7L309.5 147.2L309.5 147.7L309.6 148.2L309.6 148.7L309.7 149.2L309.7 149.7L309.7 150.2L309.8 150.7L309.8 151.2L309.9 151.7L309.9 152.2L310.0 152.7L310.1 153.2L310.2 153.6L310.3 154.1L310.6 153.9L310.7 153.4L310.7 152.9L310.8 152.4L310.8 151.9L310.9 151.4L311.0 150.9L311.0 150.4L311.0 149.9L311.1 149.4L311.1 148.9L311.2 148.4L311.2 147.9L311.3 147.4L311.3 146.9L311.4 146.4L311.4 145.9L311.4 145.4L311.5 144.9L311.5 144.4L311.6 143.9L311.6 143.4L311.7 142.9L311.7 142.4L311.8 141.9L311.9 141.4L311.9 140.9L312.0 140.4L312.1 139.9L312.1 139.5L312.2 139.0L312.3 138.5L312.5 138.0L312.8 137.7L313.3 137.8L313.6 138.2L313.7 138.7L313.8 139.2L313.8 139.7L313.8 140.2L313.9 140.7L313.9 141.2L313.9 141.7L314.0 142.2L314.1 142.7L314.3 143.1L314.5 143.5L314.9 143.9L315.3 144.2L315.8 144.3L316.3 144.3L316.8 144.3" fill="none" stroke="#666" stroke-width="1.5" stroke-linejoin="round" stroke-linecap="round"/>
<path d="M315.4 144.0L315.9 144.1L316.4 144.1L316.9 144.3L317.4 144.2L317.9 144.3L318.4 144.4L318.9 144.4L319.4 144.4L319.9 144.2L320.4 144.2L320.9 144.2L321.4 144.3L321.9 144.4L322.4 144.3L322.9 144.3L323.4 144.6L323.9 144.2L324.4 144.5L324.9 144.7L325.4 144.5L325.9 144.5L326.4 144.5L326.9 144.8L327.4 144.7L327.9 144.4L328.4 144.7L328.9 144.9L329.4 144.9L329.9 144.8L330.4 144.6L330.9 144.3L331.4 144.6L331.9 144.4L332.4 144.4L332.9 144.6L333.3 144.2L333.8 144.1L334.3 144.1L334.8 143.8L335.3 143.7L335.8 143.5L336.3 143.7L336.8 143.5L337.2 143.2L337.7 143.4L338.2 143.1L338.7 142.6L339.2 142.9L339.7 142.6L340.1 142.3L340.6 142.5L341.1 142.3L341.6 142.2L342.1 142.3L342.6 141.7L343.1 141.8L343.6 141.9L344.1 141.9L344.6 141.7L345.1 141.6L345.6 141.6L346.1 141.7L346.6 141.8L347.1 141.4L347.6 141.2L348.1 141.5L348.6 141.4L349.1 141.3L349.6 141.6L350.1 141.6L350.6 141.3L351.1 141.3L351.6 141.5L352.1 141.3L352.6 141.1L353.1 141.3L353.6 141.2L354.1 141.4L354.6 141.2L355.1 141.3L355.6 141.4L356.1 141.3L356.6 141.2L357.1 141.1L357.6 141.6L358.1 141.5L358.6 141.0L359.1 141.1L359.6 141.4L360.1 141.2L360.6 141.3L361.1 141.5L361.6 141.3L362.1 141.3L362.6 141.3L363.1 141.3L363.6 141.4L364.1 141.7L364.6 141.6L365.1 141.4L365.6 141.6L366.1 141.4L366.6 141.2L367.1 141.4L367.6 141.6L368.1 141.4L368.6 141.6L369.1 141.4L369.6 141.5L370.1 141.3L370.6 141.9L371.1 141.6L371.6 141.7L372.1 141.4L372.6 141.3L373.1 141.8L373.6 141.4L374.1 141.8L374.6 141.5L375.1 141.9L375.6 141.4L376.1 141.3L376.6 141.7L377.1 141.6L377.6 141.6L378.1 141.8L378.6 141.4L379.1 141.4L379.6 141.4L380.1 141.3L380.6 141.3L381.1 141.4L381.6 141.4L382.1 141.5L382.6 141.4L383.1 141.6L383.6 141.8L384.1 141.6L384.6 141.7L385.1 141.5L385.6 141.7L386.1 141.7L386.6 141.5L387.1 141.4L387.6 141.6L388.1 141.7L388.6 141.9L389.1 141.6L389.6 142.0L390.1 141.2L390.6 141.6L391.1 141.6L391.6 141.6L392.1 141.6L392.6 141.7L393.1 142.0L393.6 141.7L394.1 141.9L394.6 141.7L395.1 141.7L395.6 141.3L396.1 141.7L396.6 141.8L397.1 141.5L397.6 141.6L398.1 141.6L398.6 142.1L399.1 141.6L399.6 141.6L400.1 141.3L400.6 141.5L401.1 141.8L401.6 141.6L402.1 141.3L402.6 141.7L403.1 141.8L403.6 141.8L404.1 141.9L404.6 141.7L405.1 142.3L405.6 141.7L406.1 141.9L406.6 141.6L407.1 141.7L407.6 141.6L408.1 141.9L408.6 141.8L409.1 141.7L409.6 141.5L410.1 142.0L410.6 142.0L411.1 142.0L411.6 141.9L412.1 142.0L412.6 142.1L413.1 142.0L413.6 142.2L414.1 141.9L414.6 142.0L415.1 141.7L415.6 142.3L416.1 141.8L416.6 142.0L417.1 142.1L417.6 141.8L418.1 142.0L418.6 142.1L419.1 142.0L419.6 141.9L420.1 141.9L420.6 141.9L421.1 142.0L421.6 142.1L422.1 142.1L422.6 142.2L423.1 142.1L423.6 142.0L424.1 142.2L424.6 142.1L425.1 142.2L425.6 142.1L426.1 142.2L426.6 142.2L427.1 142.2L427.6 141.9L428.1 142.1L428.6 142.1L429.1 142.4L429.6 142.1L430.1 142.2L430.6 142.1L431.1 141.8L431.6 142.4L432.1 142.3L432.6 142.4L433.1 141.9L433.6 142.2L434.1 142.2L434.6 141.9L435.1 142.3L435.6 142.1L436.1 142.3L436.6 141.9L437.1 142.1L437.6 142.1L438.1 142.0L438.6 142.2L439.1 142.5L439.6 142.2L440.1 142.4L440.6 142.5L441.1 142.4L441.6 142.2L442.1 141.9L442.6 142.3L443.1 142.2L443.6 142.2L444.1 142.4L444.6 142.4L445.1 142.0L445.6 142.4L446.1 142.3L446.6 142.5L447.1 142.3L447.6 142.5L448.1 142.2L448.6 142.3L449.1 142.3L449.6 142.3L450.1 142.3L450.6 142.6L451.1 142.2L451.6 142.4L452.1 142.2L452.6 142.1L453.1 142.3L453.6 142.1L454.1 142.4L454.6 142.3L455.1 142.3L455.6 142.5L456.1 142.7L456.6 142.4L457.1 142.1L457.6 142.4L458.1 142.5L458.6 142.7L459.1 142.5L459.6 142.3L460.1 142.7L460.6 142.7L461.1 142.5L461.6 142.6L462.1 142.6L462.6 143.0L463.1 142.4L463.6 142.5L464.1 142.5L464.6 142.7L465.1 142.5L465.6 142.6L466.1 142.7L466.6 142.9L467.1 142.5L467.6 142.5L468.1 142.5L468.6 142.3L469.1 142.4L469.6 142.6L470.1 142.6L470.6 143.1L471.1 142.8L471.6 142.8L472.1 142.9L472.6 142.5L473.1 142.5L473.6 142.5L474.1 142.6L474.6 143.0L475.1 142.6L475.6 142.5L476.1 142.7L476.6 142.8L477.1 142.8L477.6 142.8L478.1 142.5L478.6 142.5L479.1 142.7L479.6 142.7L480.1 143.0L480.6 142.5L481.1 142.8L481.6 142.7L482.1 142.8L482.6 142.6L483.1 142.5L483.6 143.0L484.1 142.8L484.6 142.4L485.1 142.9L485.6 142.6L486.1 142.8L486.6 142.8L487.1 142.5L487.6 143.0L488.1 142.7L488.6 143.1L489.1 142.9L489.6 142.9L490.1 142.9L490.6 143.2L491.1 142.6L491.6 142.7L492.1 142.7L492.6 143.0L493.1 143.0L493.6 142.9L494.1 142.9L494.6 142.6L495.1 143.1L495.6 142.8L496.1 142.9L496.6 142.8L497.1 143.0L497.6 142.9L498.1 142.9L498.6 142.9L499.1 142.8L499.6 142.8L500.1 143.0L500.6 143.0L501.1 143.1L501.6 143.2L502.1 142.7L502.6 142.6L503.1 142.9L503.6 143.2L504.1 143.0L504.6 142.6L505.1 143.3L505.6 143.1L506.1 142.7L506.6 142.8L507.1 143.0L507.6 142.9" fill="none" stroke="#767676" stroke-width="1.15" stroke-linejoin="round" stroke-linecap="round"/>
<path d="M315.4 144.2L315.9 144.5L316.4 144.4L316.9 144.0L317.4 144.0L317.9 143.9L318.4 144.1L318.9 143.9L319.4 144.0L319.9 143.4L320.4 144.0L320.8 143.5L321.3 143.5L321.8 143.2L322.3 143.0L322.7 143.0L323.2 142.9L323.6 142.4L324.1 142.2L324.5 142.2L325.0 141.6L325.4 141.2L325.8 141.4L326.2 140.8L326.6 140.2L327.0 140.2L327.4 139.9L327.7 139.4L328.0 138.9L328.4 138.9L328.7 138.7L329.0 138.1L329.4 137.6L329.7 137.5L330.0 137.2L330.4 136.6L330.7 136.4L331.0 136.1L331.3 135.4L331.6 134.9L332.0 134.8L332.3 134.4L332.6 134.2L332.9 133.3L333.2 133.0L333.5 132.6L333.8 132.0L334.2 132.0L334.5 131.7L334.8 131.1L335.1 131.1L335.4 130.6L335.7 130.2L336.0 129.7L336.4 129.5L336.7 128.6L337.0 128.6L337.3 128.2L337.6 127.3L338.0 127.4L338.3 126.9L338.6 126.8L339.0 126.1L339.3 125.9L339.7 125.6L340.0 125.0L340.4 125.0L340.8 124.5L341.1 124.3L341.5 123.7L341.9 123.8L342.3 123.3L342.7 122.9L343.1 122.8L343.5 122.6L344.0 122.5L344.4 121.6L344.9 121.9L345.3 121.6L345.8 121.4L346.3 121.0L346.8 121.4L347.3 120.7L347.8 121.0L348.3 121.1L348.7 120.4L349.2 120.6L349.7 120.3L350.2 120.5L350.7 120.7L351.2 120.8L351.7 119.9L352.2 120.2L352.7 120.4L353.2 120.6L353.7 120.3L354.2 120.0L354.7 120.2L355.2 120.1L355.7 120.1L356.2 120.0L356.7 120.2L357.2 120.2L357.7 120.1L358.2 120.1L358.7 119.9L359.2 120.0L359.7 120.4L360.2 120.1L360.7 119.8L361.2 120.5L361.7 120.3L362.2 120.6L362.7 120.2L363.2 120.1L363.7 119.9L364.2 120.5L364.7 120.8L365.2 120.0L365.7 120.1L366.2 120.4L366.7 120.1L367.2 120.2L367.7 120.2L368.2 120.4L368.7 120.6L369.2 120.4L369.7 120.6L370.2 120.3L370.7 120.5L371.2 120.0L371.7 120.2L372.2 120.7L372.7 120.4L373.2 120.7L373.7 120.8L374.2 121.0L374.7 120.9L375.2 121.0L375.7 120.8L376.2 120.7L376.7 120.7L377.2 120.8L377.7 120.7L378.2 120.9L378.7 121.0L379.2 121.1L379.7 121.0L380.2 120.7L380.7 121.2L381.2 121.3L381.7 121.5L382.2 121.4L382.7 121.2L383.2 121.2L383.7 121.9L384.2 121.7L384.7 121.9L385.2 122.0L385.7 121.4L386.2 121.7L386.7 121.8L387.2 121.9L387.7 121.9L388.2 121.9L388.7 121.9L389.1 121.6L389.6 121.9L390.1 121.8L390.6 122.1L391.1 122.0L391.6 122.3L392.1 122.3L392.6 122.3L393.1 122.3L393.6 122.3L394.1 122.2L394.6 122.3L395.1 122.3L395.6 122.6L396.1 122.5L396.6 122.7L397.1 122.3L397.6 122.8L398.1 122.5L398.6 122.6L399.1 122.7L399.6 122.7L400.1 122.9L400.6 122.8L401.1 122.7L401.6 122.8L402.1 123.3L402.6 123.1L403.1 122.9L403.6 123.2L404.1 122.9L404.6 123.6L405.1 122.9L405.6 123.4L406.1 123.5L406.6 123.1L407.1 123.5L407.6 123.7L408.1 123.6L408.6 123.6L409.1 123.8L409.6 123.7L410.1 123.8L410.6 123.7L411.1 123.9L411.6 123.6L412.1 124.0L412.6 123.8L413.1 123.7L413.6 124.1L414.1 124.4L414.6 124.3L415.1 124.0L415.6 124.3L416.1 124.1L416.6 124.2L417.1 124.3L417.5 123.8L418.0 124.4L418.5 124.2L419.0 124.3L419.5 124.1L420.0 124.2L420.5 124.3L421.0 124.7L421.5 125.0L422.0 124.6L422.5 124.9L423.0 124.7L423.5 124.3L424.0 124.8L424.5 124.9L425.0 124.8L425.5 125.0L426.0 125.0L426.5 124.8L427.0 124.7L427.5 125.0L428.0 125.0L428.5 125.0L429.0 125.4L429.5 125.5L430.0 125.1L430.5 125.4L431.0 125.5L431.5 125.5L432.0 125.6L432.5 125.3L433.0 125.6L433.5 125.9L434.0 125.7L434.5 125.4L435.0 125.7L435.5 125.9L436.0 125.7L436.5 125.5L437.0 126.0L437.5 125.4L438.0 125.9L438.5 125.8L439.0 125.5L439.5 126.1L440.0 126.0L440.5 125.6L441.0 126.1L441.5 125.9L442.0 125.6L442.5 125.9L443.0 126.1L443.5 126.2L444.0 126.2L444.5 126.2L445.0 126.3L445.5 126.2L446.0 126.5L446.5 126.3L447.0 126.4L447.5 126.5L448.0 126.1L448.5 126.2L449.0 126.8L449.5 126.5L450.0 126.4L450.5 126.6L451.0 126.4L451.5 126.6L452.0 126.4L452.5 126.7L453.0 126.3L453.5 127.0L454.0 126.6L454.5 126.4L455.0 126.7L455.5 126.7L456.0 126.8L456.5 126.6L457.0 126.9L457.5 127.7L458.0 126.6L458.5 127.0L459.0 126.9L459.5 127.0L460.0 126.6L460.5 126.8L461.0 127.1L461.5 127.1L462.0 127.5L462.5 127.0L463.0 127.2L463.5 127.8L464.0 127.0L464.5 127.0L465.0 127.2L465.5 127.2L466.0 127.4L466.5 127.3L467.0 127.1L467.5 127.4L468.0 127.9L468.5 127.6L469.0 126.8L469.5 127.4L470.0 127.2L470.5 127.6L471.0 127.4L471.5 127.9L472.0 127.7L472.5 127.7L473.0 127.6L473.5 127.5L474.0 127.6L474.5 127.9L475.0 127.7L475.5 127.5L475.9 127.9L476.4 127.7L476.9 127.6L477.4 127.5L477.9 127.6L478.4 127.6L478.9 127.1L479.4 128.0L479.9 127.9L480.4 127.7L480.9 128.0L481.4 127.9L481.9 127.9L482.4 127.3L482.9 127.8L483.4 128.0L483.9 128.2L484.4 128.3L484.9 128.2L485.4 127.7L485.9 127.5L486.4 128.1L486.9 128.0L487.4 128.2L487.9 128.0L488.4 128.1L488.9 127.7L489.4 128.1L489.9 128.0L490.4 128.2L490.9 128.2L491.4 128.1L491.9 128.2L492.4 128.1L492.9 128.3L493.4 128.3L493.9 128.1L494.4 128.1L494.9 128.6L495.4 128.2L495.9 128.5L496.4 128.3L496.9 128.1L497.4 128.1L497.9 128.3L498.4 128.4L498.9 128.5L499.4 128.1L499.9 128.2L500.4 128.3L500.9 128.7L501.4 127.9L501.9 128.5L502.4 128.3L502.9 128.5L503.4 128.4L503.9 128.6L504.4 128.8L504.9 128.6L505.4 128.6L505.9 128.6L506.4 128.4L506.9 128.7L507.4 128.5" fill="none" stroke="#4a4a4a" stroke-width="1.15" stroke-linejoin="round" stroke-linecap="round"/>
<path d="M315.4 144.2L315.9 144.5L316.4 144.4L316.9 144.4L317.4 144.6L317.9 143.8L318.4 143.9L318.9 143.7L319.4 143.9L319.9 144.1L320.3 143.6L320.7 143.5L321.2 142.5L321.5 142.8L321.9 142.2L322.3 142.6L322.6 142.0L323.0 141.6L323.3 141.0L323.6 140.8L324.0 140.4L324.3 139.7L324.6 139.3L324.9 139.0L325.2 138.5L325.4 138.0L325.7 137.7L326.0 137.2L326.3 137.2L326.5 136.1L326.8 136.3L327.0 135.5L327.3 135.1L327.6 134.4L327.8 134.3L328.1 133.9L328.3 133.6L328.6 133.0L328.8 132.7L329.1 132.7L329.3 131.9L329.6 131.2L329.8 131.2L330.1 130.4L330.3 130.2L330.5 129.8L330.8 129.1L331.0 128.2L331.3 128.2L331.5 128.0L331.8 127.3L332.0 127.1L332.3 126.8L332.5 126.0L332.8 126.0L333.0 125.7L333.2 125.1L333.5 124.7L333.7 124.3L334.0 124.1L334.2 123.1L334.5 122.7L334.8 122.4L335.0 121.5L335.3 120.9L335.6 120.7L335.8 120.6L336.1 120.3L336.4 119.3L336.7 118.8L336.9 118.8L337.2 118.4L337.5 118.0L337.8 117.8L338.1 117.6L338.4 116.9L338.7 116.6L339.0 115.8L339.4 115.4L339.7 115.4L340.1 115.2L340.4 114.9L340.8 114.5L341.2 114.2L341.6 113.9L342.0 112.9L342.4 112.9L342.8 112.9L343.2 112.6L343.6 111.7L343.9 112.2L344.3 111.4L344.8 111.2L345.2 111.1L345.6 111.0L346.1 110.2L346.6 110.7L347.1 110.4L347.6 110.0L348.1 110.1L348.6 109.6L349.1 110.0L349.6 110.2L350.1 109.9L350.5 110.0L351.0 110.1L351.5 110.1L352.0 110.4L352.5 110.1L353.0 110.0L353.5 110.3L354.0 110.7L354.5 110.1L355.0 110.3L355.5 109.8L356.0 110.6L356.5 110.5L357.0 110.7L357.5 110.3L358.0 110.1L358.5 110.7L359.0 110.6L359.5 110.2L360.0 110.1L360.5 110.7L361.0 110.5L361.5 111.3L362.0 110.5L362.5 110.6L363.0 110.7L363.5 110.4L364.0 110.6L364.5 111.4L365.0 111.0L365.5 110.9L366.0 110.8L366.5 111.4L367.0 111.5L367.5 111.5L368.0 111.4L368.5 111.7L369.0 111.8L369.5 111.5L369.9 112.0L370.4 111.3L370.9 111.6L371.4 111.9L371.9 112.0L372.4 111.8L372.9 112.2L373.4 112.5L373.9 112.4L374.4 112.4L374.9 112.6L375.4 112.5L375.9 112.1L376.4 112.4L376.9 112.9L377.4 112.3L377.9 112.7L378.4 112.6L378.9 112.5L379.4 112.5L379.9 112.9L380.4 113.0L380.9 113.0L381.4 112.6L381.9 113.0L382.4 113.2L382.9 113.4L383.4 113.4L383.9 113.5L384.4 113.6L384.9 113.6L385.4 113.1L385.9 113.4L386.4 113.3L386.9 112.9L387.4 113.1L387.9 114.2L388.4 113.3L388.9 113.1L389.4 113.6L389.8 114.2L390.3 113.8L390.8 114.0L391.3 113.9L391.8 114.0L392.3 114.4L392.8 114.3L393.3 114.1L393.8 114.4L394.3 114.5L394.8 114.2L395.3 114.4L395.8 114.4L396.3 114.2L396.8 114.8L397.3 114.5L397.8 114.4L398.3 114.1L398.8 114.3L399.3 115.1L399.8 114.4L400.3 114.9L400.8 114.8L401.3 115.1L401.8 115.1L402.3 114.8L402.8 115.0L403.3 115.1L403.8 115.2L404.3 115.2L404.8 115.2L405.3 115.5L405.8 115.7L406.3 115.6L406.8 115.3L407.3 115.6L407.8 115.6L408.3 115.8L408.8 116.2L409.2 115.7L409.7 115.8L410.2 115.6L410.7 115.8L411.2 115.8L411.7 116.5L412.2 116.2L412.7 116.0L413.2 116.7L413.7 115.9L414.2 116.6L414.7 116.7L415.2 116.6L415.7 116.4L416.2 116.5L416.7 116.5L417.2 116.9L417.7 116.1L418.2 116.7L418.7 116.9L419.2 116.8L419.7 116.5L420.2 117.0L420.7 116.9L421.2 117.4L421.7 117.6L422.2 117.3L422.7 116.8L423.2 117.3L423.6 117.2L424.1 117.7L424.6 118.1L425.1 117.7L425.6 118.3L426.1 118.2L426.6 118.0L427.1 117.6L427.6 118.0L428.1 117.6L428.6 118.4L429.1 118.2L429.6 118.6L430.1 118.4L430.6 117.8L431.1 118.6L431.6 118.7L432.1 119.0L432.6 118.3L433.1 118.4L433.6 118.7L434.1 118.5L434.6 118.4L435.1 118.6L435.6 119.6L436.1 118.8L436.6 118.7L437.1 119.0L437.6 119.1L438.0 119.6L438.5 119.5L439.0 119.5L439.5 119.4L440.0 119.5L440.5 119.3L441.0 119.1L441.5 120.1L442.0 119.5L442.5 120.0L443.0 119.6L443.5 119.8L444.0 119.8L444.5 119.5L445.0 119.9L445.5 120.1L446.0 120.3L446.5 120.2L447.0 120.4L447.5 120.3L448.0 120.2L448.5 119.7L449.0 120.2L449.5 120.8L450.0 120.5L450.5 120.7L451.0 120.4L451.5 120.4L452.0 121.2L452.5 120.7L453.0 121.1L453.5 120.9L454.0 120.7L454.5 120.2L455.0 120.9L455.5 120.4L456.0 120.3L456.5 121.3L457.0 121.2L457.5 121.2L458.0 121.1L458.5 121.1L459.0 121.3L459.5 121.2L460.0 121.3L460.5 121.5L460.9 120.6L461.4 121.6L461.9 121.2L462.4 121.7L462.9 121.8L463.4 121.2L463.9 121.7L464.4 121.8L464.9 121.4L465.4 121.5L465.9 121.7L466.4 121.0L466.9 121.6L467.4 121.8L467.9 121.6L468.4 121.3L468.9 121.7L469.4 122.3L469.9 122.3L470.4 121.9L470.9 121.7L471.4 122.0L471.9 122.0L472.4 121.8L472.9 122.0L473.4 122.3L473.9 122.4L474.4 121.5L474.9 122.5L475.4 122.2L475.9 122.6L476.4 122.3L476.9 122.4L477.4 122.8L477.9 121.5L478.4 122.8L478.9 122.5L479.4 121.9L479.9 121.7L480.4 122.6L480.9 122.2L481.4 122.8L481.9 122.6L482.4 122.6L482.9 122.9L483.4 122.7L483.9 122.9L484.4 122.9L484.9 122.8L485.4 123.0L485.9 123.0L486.4 122.4L486.9 122.8L487.4 122.8L487.9 122.8L488.4 122.5L488.9 122.8L489.4 123.1L489.9 123.1L490.4 123.5L490.9 122.9L491.4 123.0L491.9 122.9L492.4 123.0L492.9 123.0L493.4 122.7L493.9 123.3L494.4 123.5L494.9 123.6L495.4 123.0L495.9 123.3L496.4 123.9L496.9 123.3L497.4 123.5L497.9 123.4L498.4 123.7L498.9 123.8L499.4 124.2L499.9 123.7L500.4 123.7L500.9 123.3L501.4 123.5L501.9 123.5L502.4 123.6L502.9 123.3L503.4 124.1L503.9 123.5L504.4 123.9L504.9 123.5L505.4 124.0L505.9 124.4L506.4 123.7L506.9 124.1L507.4 124.0" fill="none" stroke="#111" stroke-width="1.3" stroke-linejoin="round" stroke-linecap="round"/>
<path d="M311.9 361.9L311.9 362.4L312.0 362.9L312.0 363.4L312.0 363.9L312.0 364.4L312.0 364.9L312.1 365.4L312.1 365.9L312.1 366.4L312.1 366.9L312.1 367.4L312.1 367.9L312.2 368.4L312.2 368.9L312.2 369.4L312.2 369.9L312.2 370.4L312.3 370.9L312.3 371.4L312.4 371.9L312.4 372.4L312.6 372.9L312.8 372.5L312.9 372.0L313.0 371.5L313.0 371.0L313.1 370.5L313.2 370.0L313.2 369.5L313.3 369.1L313.4 368.6L313.4 368.1L313.5 367.6L313.6 367.1L313.6 366.6L313.7 366.1L313.7 365.6L313.8 365.1L313.8 364.6L313.9 364.1L314.0 363.6L314.0 363.1L314.1 362.6L314.1 362.1L314.2 361.6L314.3 361.1L314.3 360.6L314.4 360.1L314.5 359.6L314.5 359.1L314.6 358.6L314.7 358.1L314.7 357.6L314.8 357.1L314.9 356.7L315.0 356.2L315.1 355.7L315.3 355.2L315.5 355.2L315.7 355.7L315.8 356.2L315.8 356.7L315.9 357.2L316.0 357.6L316.1 358.1L316.2 358.6L316.3 359.1L316.5 359.6L316.8 360.0L317.1 360.4L317.4 360.7L317.8 361.0L318.3 361.3L318.8 361.4L319.2 361.5" fill="none" stroke="#555" stroke-width="1.5" stroke-linejoin="round" stroke-linecap="round"/>
<path d="M318.3 361.6L318.7 361.0L319.1 362.1L319.5 362.2L319.9 362.7L320.4 362.8L320.8 363.3L321.3 363.1L321.8 363.2L322.2 363.4L322.7 363.4L323.2 363.1L323.7 363.0L324.2 363.0L324.6 362.7L325.0 362.2L325.4 361.9L325.8 361.4L326.2 361.7L326.5 361.0L326.9 360.9L327.3 360.4L327.6 360.3L327.9 359.8L328.2 359.2L328.5 359.0L328.8 358.2L329.1 358.2L329.3 357.2L329.6 357.1L329.8 356.8L330.1 356.3L330.4 355.7L330.6 355.2L330.9 354.9L331.1 354.7L331.3 354.2L331.6 353.6L331.8 353.0L332.1 352.9L332.3 352.0L332.5 351.8L332.8 351.3L333.0 351.1L333.2 350.5L333.4 350.1L333.6 349.7L333.8 349.0L334.0 348.8L334.2 348.5L334.5 347.8L334.7 347.5L334.9 346.9L335.1 346.6L335.3 346.1L335.6 345.7L335.8 345.2L336.1 345.0L336.3 344.2L336.6 343.8L336.8 343.3L337.1 343.1L337.4 342.4L337.6 342.0L337.9 341.8L338.2 341.5L338.4 341.0L338.7 340.0L339.0 339.9L339.3 339.4L339.6 339.0L339.9 338.8L340.2 338.8L340.5 338.0L340.8 337.5L341.2 337.4L341.5 336.9L341.8 336.5L342.1 336.0L342.4 335.8L342.8 335.5L343.1 334.7L343.5 334.4L343.8 334.5L344.2 334.1L344.5 333.5L344.9 333.1L345.3 332.9L345.6 332.4L346.0 332.2L346.4 332.3L346.8 331.7L347.2 331.6L347.7 331.1L348.1 330.9L348.5 330.8L348.9 330.1L349.4 330.1L349.8 329.9L350.3 329.8L350.8 329.8L351.2 329.5L351.7 328.9L352.2 329.0L352.7 328.7L353.2 328.6L353.6 329.1L354.1 328.4L354.6 328.6L355.1 328.4L355.6 328.7L356.1 328.5L356.6 328.5L357.1 328.4L357.6 328.7L358.1 328.3L358.6 328.3L359.1 328.3L359.6 328.8L360.1 328.5L360.6 328.4L361.1 328.6L361.6 329.2L362.1 328.8L362.6 329.1L363.1 329.1L363.6 329.1L364.1 329.1L364.6 329.3L365.1 329.3L365.6 329.1L366.0 330.1L366.5 329.9L367.0 329.8L367.5 329.8L368.0 329.8L368.5 330.3L369.0 330.1L369.5 330.4L370.0 330.1L370.5 330.5L371.0 330.9L371.4 330.6L371.9 330.8L372.4 330.8L372.9 331.0L373.4 331.1L373.9 331.0L374.4 331.0L374.9 331.2L375.4 331.2L375.9 331.2L376.4 331.5L376.9 331.5L377.4 331.4L377.9 331.6L378.4 332.2L378.9 331.9L379.4 331.8L379.9 332.3L380.3 331.9L380.8 331.6L381.3 331.8L381.8 331.9L382.3 332.3L382.8 332.5L383.3 332.0L383.8 332.6L384.3 332.3L384.8 332.6L385.3 332.7L385.8 332.8L386.3 332.8L386.8 332.9L387.3 332.7L387.8 333.1L388.3 333.2L388.8 333.3L389.3 333.7L389.8 333.5L390.2 333.5L390.7 333.7L391.2 333.5L391.7 333.3L392.2 333.2L392.7 333.9L393.2 333.9L393.7 334.0L394.2 333.8L394.7 334.0L395.2 334.4L395.7 334.1L396.2 334.0L396.7 334.1L397.2 334.5L397.7 334.2L398.2 334.0L398.7 334.1L399.2 334.3L399.7 334.8L400.2 334.7L400.7 334.6L401.2 334.6L401.6 334.9L402.1 334.9L402.6 334.9L403.1 335.0L403.6 335.0L404.1 335.5L404.6 334.8L405.1 335.4L405.6 335.2L406.1 335.6L406.6 335.5L407.1 335.7L407.6 335.7L408.1 335.8L408.6 336.0L409.1 335.6L409.6 336.1L410.1 335.9L410.6 336.1L411.1 336.4L411.6 336.4L412.1 336.6L412.6 335.9L413.1 336.2L413.5 336.6L414.0 336.3L414.5 336.5L415.0 336.9L415.5 336.8L416.0 336.5L416.5 336.8L417.0 336.9L417.5 336.9L418.0 336.9L418.5 337.0L419.0 336.8L419.5 337.1L420.0 337.0L420.5 337.3L421.0 337.4L421.5 337.2L422.0 337.5L422.5 337.5L423.0 337.5L423.5 337.7L424.0 337.6L424.5 337.6L425.0 337.7L425.5 337.8L426.0 338.0L426.5 337.4L427.0 337.9L427.5 337.6L428.0 337.9L428.5 338.1L429.0 338.1L429.4 338.3L429.9 338.3L430.4 337.8L430.9 338.1L431.4 338.6L431.9 338.7L432.4 338.5L432.9 338.2L433.4 338.9L433.9 338.2L434.4 338.7L434.9 338.7L435.4 338.7L435.9 338.5L436.4 338.7L436.9 339.0L437.4 338.8L437.9 338.7L438.4 338.9L438.9 339.0L439.4 339.0L439.9 338.9L440.4 339.2L440.9 339.1L441.4 339.0L441.9 339.3L442.4 339.3L442.9 339.3L443.4 339.0L443.9 339.2L444.4 339.5L444.9 339.6L445.4 339.5L445.9 339.5L446.4 339.7L446.9 339.8L447.4 340.0L447.9 339.8L448.4 339.6L448.9 339.8L449.4 339.4L449.9 339.8L450.4 339.8L450.9 339.9L451.4 340.0L451.9 340.0L452.4 339.7L452.9 340.0L453.4 339.9L453.9 340.1L454.4 340.2L454.9 340.0L455.4 340.3L455.9 340.5L456.4 340.2L456.9 340.5L457.4 340.1L457.9 340.3L458.4 340.6L458.9 340.2L459.4 340.4L459.9 340.4L460.4 340.8L460.9 340.8L461.4 340.5L461.9 340.7L462.4 340.2L462.8 340.9L463.3 340.8L463.8 341.1L464.3 340.4L464.8 340.9L465.3 340.9L465.8 340.5L466.3 340.9L466.8 341.0L467.3 341.2L467.8 341.1L468.3 341.0L468.8 341.2L469.3 341.2L469.8 341.1L470.3 341.1L470.8 341.3L471.3 341.3L471.8 341.7L472.3 341.3L472.8 341.7L473.3 341.5L473.8 341.7L474.3 341.4L474.8 341.4L475.3 341.5L475.8 341.8L476.3 341.7L476.8 341.8L477.3 341.8L477.8 341.9L478.3 341.8L478.8 341.7L479.3 341.9L479.8 341.9L480.3 342.2L480.8 341.9L481.3 342.0L481.8 341.9L482.3 342.2L482.8 342.2L483.3 342.2L483.8 341.9L484.3 341.9L484.8 342.2L485.3 342.4L485.8 342.5L486.3 342.0L486.8 342.3L487.3 342.0L487.8 342.2L488.3 342.4L488.8 342.6L489.3 342.4L489.8 342.4L490.3 342.5L490.8 342.8L491.3 343.0L491.8 342.4L492.3 342.6L492.8 342.6L493.3 342.9L493.8 342.8L494.3 343.1L494.8 342.6L495.3 342.9L495.8 342.8L496.3 342.7L496.8 342.9L497.3 342.8L497.8 343.4L498.3 343.1L498.8 342.9L499.3 343.0L499.8 343.5L500.3 343.1L500.8 343.3L501.3 343.3L501.8 343.5L502.3 343.4L502.8 343.3L503.3 343.3L503.8 343.1L504.3 343.4L504.8 343.5L505.3 343.4L505.8 343.5L506.3 343.3L506.8 344.0L507.3 343.5L507.8 343.5L508.3 343.6" fill="none" stroke="#767676" stroke-width="1.4" stroke-linejoin="round" stroke-linecap="round"/>
<path d="M318.3 361.5L318.8 361.0L319.3 360.7L319.7 360.2L320.1 360.5L320.4 360.4L320.7 359.8L320.9 359.4L321.1 359.1L321.3 358.2L321.5 358.5L321.7 357.3L321.8 357.1L322.0 357.1L322.2 356.0L322.3 355.6L322.5 355.0L322.6 354.7L322.8 353.7L322.9 353.5L323.1 353.6L323.2 352.8L323.4 352.2L323.5 351.8L323.7 351.4L323.8 350.8L323.9 350.4L324.0 349.4L324.1 349.5L324.3 348.7L324.4 348.5L324.5 347.9L324.6 347.2L324.7 346.9L324.8 346.2L324.9 346.1L325.0 345.4L325.1 345.1L325.2 344.2L325.3 344.3L325.4 343.4L325.6 343.3L325.7 342.7L325.8 341.8L325.9 341.6L326.0 340.9L326.1 340.6L326.2 340.4L326.2 339.7L326.3 339.3L326.4 338.3L326.5 338.1L326.6 337.7L326.7 337.3L326.8 336.5L326.9 336.2L327.0 335.7L327.1 334.8L327.2 334.4L327.3 334.2L327.4 333.4L327.5 332.9L327.6 332.9L327.7 332.3L327.8 331.6L327.9 331.2L328.0 330.6L328.1 330.1L328.2 329.6L328.2 329.3L328.3 329.0L328.4 328.2L328.5 327.8L328.6 327.2L328.7 326.5L328.8 326.4L328.9 326.0L329.0 325.1L329.1 325.0L329.2 324.2L329.3 324.1L329.4 323.6L329.5 322.8L329.6 321.9L329.7 321.8L329.8 321.1L329.9 320.6L330.1 320.4L330.2 320.2L330.3 319.4L330.4 318.9L330.5 318.1L330.7 317.9L330.8 317.2L330.9 317.2L331.1 316.4L331.2 316.1L331.3 315.6L331.5 315.1L331.6 314.8L331.7 314.3L331.9 313.6L332.0 313.2L332.1 312.8L332.2 312.5L332.3 311.8L332.4 311.6L332.6 310.6L332.7 310.2L332.7 309.4L332.8 309.5L332.9 308.5L332.9 308.1L333.0 308.0L333.0 307.2L333.1 306.6L333.1 306.5L333.2 305.7L333.2 305.5L333.3 304.7L333.3 304.5L333.4 304.0L333.5 303.3L333.6 303.2L333.7 302.3L333.9 301.8L334.0 301.4L334.1 301.1L334.2 300.3L334.4 299.8L334.5 299.5L334.7 299.2L334.8 298.4L335.0 297.7L335.2 297.5L335.3 297.2L335.5 296.5L335.7 296.2L335.9 295.3L336.2 295.3L336.4 294.9L336.7 294.5L336.9 294.1L337.2 293.7L337.5 293.0L337.8 292.9L338.2 292.0L338.5 291.9L338.8 291.9L339.2 291.5L339.5 290.5L339.8 290.7L340.2 290.1L340.5 289.6L340.9 289.5L341.2 289.1L341.6 289.1L342.0 288.2L342.4 288.1L342.9 288.0L343.4 287.4L343.8 287.9L344.3 288.0L344.8 287.4L345.3 287.6L345.8 287.4L346.3 287.6L346.8 287.4L347.3 287.7L347.8 287.3L348.3 287.9L348.8 287.7L349.3 288.2L349.8 287.3L350.3 287.7L350.8 287.4L351.3 287.7L351.8 287.9L352.3 287.7L352.8 287.6L353.3 287.6L353.8 288.1L354.3 288.4L354.8 288.5L355.3 288.3L355.8 288.2L356.3 288.4L356.7 288.3L357.2 288.4L357.7 289.1L358.2 289.0L358.7 289.2L359.2 289.2L359.6 289.7L360.1 289.9L360.6 289.5L361.1 289.6L361.6 289.6L362.1 290.1L362.6 290.2L363.1 289.9L363.6 290.5L364.1 290.1L364.6 289.9L365.1 289.8L365.6 290.3L366.0 290.5L366.5 290.5L367.0 290.8L367.5 291.1L368.0 291.0L368.4 291.4L368.9 291.7L369.4 291.6L369.9 291.4L370.4 291.8L370.9 291.9L371.3 292.4L371.8 291.9L372.3 291.8L372.8 292.3L373.3 292.4L373.8 292.4L374.3 292.7L374.8 292.7L375.3 293.0L375.7 292.7L376.2 292.8L376.7 293.0L377.2 293.0L377.7 293.5L378.2 293.5L378.7 293.4L379.2 293.9L379.7 293.7L380.2 293.9L380.7 294.0L381.1 293.9L381.6 293.9L382.1 294.1L382.6 293.9L383.1 294.2L383.6 294.5L384.1 294.5L384.6 294.3L385.1 295.1L385.6 294.5L386.1 294.9L386.6 295.0L387.0 295.2L387.5 294.9L388.0 295.1L388.5 295.2L389.0 295.6L389.5 295.5L390.0 295.6L390.5 295.7L391.0 296.1L391.5 295.9L392.0 296.0L392.5 295.7L393.0 296.2L393.5 295.8L393.9 296.4L394.4 296.3L394.9 296.2L395.4 296.2L395.9 296.5L396.4 296.6L396.9 296.6L397.4 296.7L397.9 296.8L398.4 296.8L398.9 297.0L399.4 297.2L399.9 297.5L400.4 297.4L400.8 297.2L401.3 297.8L401.8 297.8L402.3 297.5L402.8 297.9L403.3 297.6L403.8 297.7L404.3 297.8L404.8 298.4L405.3 298.1L405.8 298.2L406.3 298.2L406.8 298.2L407.3 298.5L407.8 298.6L408.3 299.0L408.7 298.4L409.2 299.0L409.7 298.9L410.2 298.5L410.7 299.1L411.2 299.3L411.7 299.3L412.2 299.2L412.7 299.3L413.2 298.9L413.7 299.4L414.2 299.5L414.7 299.3L415.2 299.6L415.7 299.5L416.2 300.2L416.7 299.5L417.2 299.7L417.7 299.5L418.1 299.9L418.6 300.1L419.1 300.1L419.6 300.1L420.1 300.5L420.6 300.4L421.1 300.7L421.6 300.5L422.1 300.2L422.6 300.6L423.1 300.5L423.6 300.9L424.1 300.7L424.6 300.8L425.1 301.0L425.6 300.7L426.1 301.0L426.6 301.3L427.1 301.1L427.6 301.3L428.1 301.4L428.5 301.3L429.0 301.4L429.5 301.7L430.0 301.5L430.5 301.7L431.0 301.7L431.5 301.6L432.0 301.6L432.5 302.4L433.0 302.3L433.5 302.1L434.0 302.4L434.5 302.5L435.0 302.5L435.5 302.3L436.0 302.1L436.5 302.2L437.0 302.5L437.5 302.9L438.0 303.0L438.5 302.7L439.0 302.7L439.5 303.1L439.9 303.4L440.4 302.8L440.9 303.1L441.4 303.1L441.9 303.1L442.4 303.2L442.9 303.2L443.4 303.3L443.9 303.1L444.4 303.5L444.9 303.7L445.4 303.8L445.9 303.8L446.4 303.8L446.9 303.8L447.4 304.2L447.9 303.8L448.4 304.0L448.9 304.3L449.4 304.1L449.9 303.8L450.4 304.0L450.9 304.1L451.4 304.2L451.9 304.2L452.4 304.6L452.9 304.6L453.4 304.6L453.9 304.4L454.4 304.8L454.9 304.9L455.3 305.2L455.8 304.6L456.3 304.8L456.8 305.1L457.3 304.7L457.8 305.0L458.3 305.0L458.8 305.1L459.3 304.9L459.8 305.1L460.3 304.9L460.8 305.5L461.3 305.2L461.8 305.4L462.3 305.4L462.8 305.5L463.3 305.5L463.8 305.6L464.3 305.5L464.8 305.6L465.3 305.4L465.8 305.5L466.3 305.5L466.8 305.6L467.3 305.5L467.8 305.7L468.3 306.0L468.8 306.0L469.3 305.9L469.8 306.1L470.3 306.2L470.8 306.7L471.3 305.8L471.8 306.3L472.3 306.0L472.8 306.6L473.3 306.3L473.8 306.5L474.3 306.4L474.8 306.6L475.3 305.8L475.8 306.3L476.3 306.6L476.8 306.3L477.3 306.8L477.8 307.0L478.3 306.4L478.8 306.7L479.3 306.9L479.8 307.2L480.3 307.1L480.7 307.1L481.2 306.8L481.7 307.0L482.2 307.1L482.7 307.0L483.2 307.2L483.7 307.1L484.2 307.1L484.7 307.7L485.2 307.2L485.7 307.7L486.2 307.3L486.7 307.4L487.2 307.2L487.7 307.3L488.2 307.9L488.7 307.6L489.2 307.2L489.7 307.9L490.2 307.5L490.7 307.6L491.2 307.7L491.7 307.4L492.2 308.2L492.7 308.1L493.2 307.8L493.7 308.0L494.2 307.9L494.7 307.9L495.2 308.0L495.7 307.8L496.2 308.0L496.7 308.0L497.2 308.6L497.7 307.9L498.2 308.6L498.7 308.5L499.2 308.4L499.7 308.3L500.2 308.8L500.7 308.8L501.2 308.5L501.7 308.5L502.2 308.6L502.7 309.0L503.2 308.5L503.7 308.7L504.2 309.0L504.7 308.5L505.2 308.8L505.7 309.1L506.2 308.8L506.7 308.9L507.2 308.7L507.7 309.1L508.2 308.8" fill="none" stroke="#4a4a4a" stroke-width="1.3" stroke-linejoin="round" stroke-linecap="round"/>
<path d="M318.3 360.9L318.5 360.6L318.8 360.5L319.1 359.9L319.3 359.7L319.6 359.4L319.8 358.3L320.1 358.6L320.3 357.7L320.5 358.0L320.8 357.2L320.9 356.3L321.1 356.1L321.3 355.6L321.4 355.2L321.6 355.0L321.7 354.3L321.8 354.1L321.9 353.3L322.1 352.6L322.2 351.7L322.3 351.2L322.4 351.2L322.5 350.9L322.5 350.6L322.6 349.5L322.7 349.2L322.8 348.5L322.9 348.1L323.0 347.1L323.1 347.4L323.1 346.5L323.2 346.2L323.3 345.9L323.4 345.4L323.5 344.4L323.6 344.7L323.6 344.0L323.7 343.4L323.8 342.6L323.9 341.9L324.0 341.4L324.0 341.3L324.1 340.9L324.2 340.1L324.3 340.3L324.3 339.4L324.4 339.1L324.5 338.6L324.5 337.6L324.6 337.6L324.7 337.0L324.7 336.0L324.8 336.1L324.9 335.7L324.9 335.2L325.0 334.7L325.1 333.5L325.2 333.3L325.2 332.8L325.3 332.4L325.4 331.9L325.4 331.7L325.5 331.1L325.6 330.2L325.7 330.2L325.7 329.9L325.8 329.0L325.9 328.0L326.0 327.8L326.0 327.4L326.1 326.5L326.2 326.4L326.2 325.6L326.3 325.7L326.4 325.2L326.5 324.5L326.5 323.6L326.6 323.6L326.7 322.8L326.8 322.3L326.8 322.3L326.9 321.3L327.0 320.6L327.0 320.8L327.1 320.5L327.2 320.0L327.3 319.3L327.3 319.1L327.4 318.0L327.5 318.2L327.6 317.7L327.7 316.5L327.7 316.2L327.8 315.2L327.9 314.8L328.0 314.8L328.0 313.8L328.1 313.7L328.2 313.3L328.3 312.7L328.3 312.4L328.4 312.2L328.5 311.2L328.5 310.9L328.6 310.6L328.6 309.5L328.7 309.0L328.7 308.0L328.8 308.3L328.8 308.0L328.9 307.3L328.9 307.3L328.9 306.6L329.0 305.9L329.0 305.2L329.1 304.4L329.1 304.2L329.2 303.8L329.2 303.2L329.3 302.6L329.4 302.1L329.4 301.9L329.5 300.7L329.6 300.6L329.7 300.2L329.7 299.9L329.8 299.4L329.9 298.7L330.0 298.1L330.0 297.4L330.1 297.6L330.2 296.9L330.3 296.3L330.4 295.6L330.5 295.0L330.5 295.1L330.6 294.3L330.7 293.9L330.8 293.8L330.9 292.4L331.0 292.1L331.1 291.9L331.2 291.5L331.3 290.6L331.4 290.3L331.4 289.7L331.5 289.2L331.6 289.0L331.7 288.5L331.8 288.2L331.9 287.6L332.0 287.4L332.1 286.2L332.2 286.1L332.3 285.1L332.4 284.5L332.5 284.1L332.7 284.2L332.8 283.6L332.9 282.6L333.0 282.9L333.1 282.3L333.2 281.5L333.3 281.0L333.4 280.6L333.6 279.8L333.7 280.3L333.8 279.0L333.9 278.6L334.1 278.1L334.2 277.5L334.3 276.9L334.4 276.8L334.6 275.9L334.7 275.4L334.8 275.0L335.0 275.0L335.1 274.0L335.3 273.5L335.4 273.4L335.6 272.6L335.8 272.3L336.0 272.2L336.2 271.6L336.4 271.1L336.7 271.0L336.9 270.1L337.2 269.6L337.5 268.9L337.8 269.0L338.1 268.8L338.5 268.0L338.8 268.4L339.2 267.9L339.6 267.5L340.0 266.7L340.5 266.8L340.9 266.6L341.3 265.7L341.8 266.0L342.3 265.8L342.7 265.2L343.2 265.8L343.7 266.2L344.2 265.8L344.7 265.4L345.2 265.7L345.7 266.2L346.2 265.7L346.7 266.2L347.1 266.3L347.6 266.5L348.1 267.0L348.6 266.3L349.0 267.2L349.5 267.1L350.0 267.2L350.5 266.9L350.9 267.6L351.4 267.6L351.9 267.1L352.3 267.7L352.8 267.9L353.3 268.2L353.7 268.5L354.2 268.6L354.7 269.4L355.1 269.5L355.6 269.3L356.1 269.9L356.5 270.3L357.0 270.0L357.5 269.7L357.9 270.3L358.4 270.8L358.9 270.3L359.3 270.7L359.8 271.2L360.3 271.4L360.8 271.5L361.2 271.5L361.7 271.5L362.2 271.5L362.7 272.2L363.1 272.3L363.6 272.1L364.1 272.2L364.5 272.9L365.0 273.1L365.5 272.7L365.9 272.7L366.4 273.4L366.8 273.8L367.3 274.0L367.8 274.1L368.2 273.7L368.7 274.3L369.2 274.4L369.6 274.4L370.1 275.6L370.6 275.0L371.0 275.3L371.5 275.3L372.0 275.7L372.4 276.1L372.9 275.8L373.4 276.1L373.8 276.1L374.3 276.1L374.8 276.6L375.2 276.9L375.7 277.0L376.2 277.1L376.6 276.8L377.1 277.6L377.6 277.7L378.1 278.2L378.5 277.8L379.0 277.8L379.5 277.8L379.9 278.3L380.4 278.6L380.9 278.9L381.4 278.5L381.8 279.0L382.3 279.6L382.8 279.5L383.2 279.5L383.7 279.7L384.2 279.5L384.7 279.7L385.1 280.1L385.6 280.7L386.1 280.9L386.6 280.6L387.1 281.0L387.5 281.1L388.0 281.5L388.5 281.1L389.0 281.5L389.4 281.9L389.9 281.4L390.4 281.9L390.9 282.1L391.3 282.3L391.8 282.5L392.3 282.7L392.8 283.0L393.2 283.3L393.7 283.1L394.2 283.8L394.7 283.2L395.1 283.4L395.6 283.7L396.1 283.6L396.6 283.5L397.0 283.7L397.5 284.6L398.0 284.2L398.5 284.1L399.0 285.2L399.4 284.9L399.9 285.0L400.4 284.8L400.9 285.3L401.4 285.2L401.9 285.5L402.3 285.6L402.8 285.6L403.3 285.9L403.8 285.7L404.3 286.0L404.7 286.0L405.2 286.5L405.7 286.7L406.2 286.8L406.7 286.2L407.2 287.3L407.6 286.9L408.1 287.1L408.6 287.2L409.1 287.3L409.6 287.8L410.1 287.6L410.6 287.8L411.0 288.1L411.5 288.3L412.0 287.8L412.5 287.9L413.0 287.8L413.5 287.9L413.9 288.7L414.4 288.7L414.9 288.8L415.4 289.0L415.9 289.1L416.4 289.5L416.9 289.8L417.3 289.2L417.8 290.0L418.3 290.0L418.8 289.6L419.3 289.9L419.8 289.9L420.3 289.6L420.8 290.2L421.2 289.9L421.7 290.5L422.2 290.3L422.7 290.6L423.2 291.0L423.7 290.9L424.2 290.8L424.7 291.2L425.1 291.4L425.6 291.6L426.1 291.2L426.6 291.9L427.1 291.6L427.6 291.6L428.1 292.2L428.6 292.2L429.0 292.3L429.5 292.2L430.0 291.8L430.5 292.5L431.0 292.7L431.5 292.6L432.0 293.2L432.5 292.8L433.0 293.4L433.5 293.3L433.9 292.9L434.4 293.0L434.9 293.2L435.4 293.4L435.9 293.7L436.4 293.4L436.9 293.4L437.4 294.4L437.9 293.9L438.4 294.0L438.9 294.5L439.3 294.2L439.8 293.6L440.3 294.4L440.8 294.2L441.3 294.8L441.8 294.1L442.3 294.7L442.8 295.0L443.3 295.2L443.8 295.2L444.3 295.3L444.8 295.1L445.3 295.2L445.8 295.0L446.2 295.6L446.7 295.9L447.2 295.7L447.7 295.4L448.2 295.3L448.7 295.6L449.2 296.3L449.7 296.0L450.2 295.7L450.7 296.0L451.2 296.4L451.7 296.1L452.2 296.2L452.7 296.3L453.2 296.2L453.6 297.1L454.1 296.4L454.6 296.8L455.1 297.1L455.6 296.9L456.1 296.8L456.6 297.0L457.1 297.1L457.6 297.1L458.1 297.1L458.6 297.2L459.1 297.5L459.6 298.0L460.1 297.5L460.6 297.9L461.1 297.7L461.6 297.5L462.0 297.5L462.5 298.0L463.0 297.6L463.5 298.2L464.0 298.1L464.5 298.7L465.0 298.0L465.5 298.7L466.0 298.8L466.5 298.7L467.0 298.4L467.5 298.7L468.0 298.8L468.5 298.7L469.0 299.1L469.5 298.9L470.0 299.1L470.5 299.4L471.0 299.1L471.5 299.1L471.9 299.3L472.4 299.2L472.9 298.7L473.4 299.3L473.9 299.5L474.4 299.3L474.9 299.1L475.4 299.8L475.9 299.6L476.4 300.0L476.9 300.0L477.4 300.4L477.9 300.2L478.4 300.4L478.9 300.6L479.4 300.2L479.9 300.6L480.4 300.7L480.9 299.9L481.4 300.2L481.9 300.6L482.4 301.1L482.9 300.6L483.3 300.4L483.8 300.4L484.3 301.0L484.8 301.0L485.3 300.8L485.8 301.2L486.3 301.0L486.8 301.5L487.3 300.9L487.8 301.2L488.3 301.7L488.8 301.3L489.3 301.3L489.8 301.5L490.3 302.2L490.8 301.8L491.3 302.2L491.8 301.6L492.3 301.8L492.8 302.2L493.3 302.1L493.8 301.9L494.3 301.5L494.8 302.4L495.3 302.5L495.7 302.5L496.2 301.9L496.7 302.1L497.2 302.4L497.7 302.3L498.2 303.0L498.7 302.4L499.2 302.7L499.7 302.5L500.2 302.4L500.7 303.3L501.2 303.1L501.7 302.9L502.2 303.2L502.7 302.6L503.2 303.7L503.7 303.1L504.2 302.9L504.7 303.2L505.2 303.6L505.7 303.6L506.2 303.9L506.7 304.0L507.1 303.8L507.6 304.2L508.1 303.5" fill="none" stroke="#111" stroke-width="1.5" stroke-linejoin="round" stroke-linecap="round"/>
<path d="M311.2 592.4L311.3 593.1L311.3 593.7L311.4 594.2L311.4 594.8L311.5 594.9L311.5 595.6L311.6 595.9L311.7 596.2L311.7 596.8L311.8 597.5L311.8 597.8L311.9 598.4L311.9 599.2L312.0 599.6L312.1 600.1L312.2 600.5L312.3 600.9L312.5 600.3L312.6 600.3L312.7 599.4L312.7 599.2L312.7 598.6L312.8 598.2L312.8 597.7L312.9 597.1L312.9 596.8L313.0 595.9L313.1 595.8L313.1 594.9L313.3 594.9L313.4 594.1L313.6 593.9L313.9 593.6L314.2 592.6L314.6 592.6L315.0 592.4L315.4 592.2L315.9 592.2L316.4 592.1L316.9 592.1L317.3 591.8L317.7 591.5L318.0 591.1L318.2 590.8L318.3 590.2L318.5 589.8L318.6 589.5L318.8 588.9L318.9 588.1L319.0 587.7L319.1 587.4L319.2 586.6L319.3 585.9L319.4 585.6L319.6 585.4L319.7 584.8L319.8 584.2L319.9 584.0L320.0 583.2L320.2 583.3L320.3 582.4L320.4 581.8L320.5 581.8L320.6 580.7L320.7 580.3L320.8 579.9L320.9 579.3L321.0 578.9L321.1 578.6L321.2 578.0L321.3 577.5L321.4 577.2L321.5 576.8L321.6 576.3L321.6 575.1L321.7 575.3L321.8 574.7L321.9 574.1L322.0 573.4L322.1 573.0L322.2 572.5L322.3 571.8L322.4 571.8L322.5 571.2L322.6 570.6L322.7 569.9L322.7 569.8L322.8 569.2L322.9 568.8L323.0 568.1L323.1 568.1L323.2 567.1L323.3 567.0L323.4 565.8L323.5 565.7L323.6 565.2L323.7 564.2L323.8 564.1L323.9 563.5L324.0 563.0L324.1 562.6L324.2 562.0L324.3 561.8L324.4 561.3L324.5 560.8L324.6 560.1L324.7 559.7L324.7 559.6L324.8 558.7L324.9 558.3L325.0 557.7L325.1 557.4L325.2 557.0L325.3 556.5L325.4 555.9L325.5 555.5L325.6 554.8L325.7 554.5L325.8 553.7L325.9 553.4L326.0 553.1L326.1 552.3L326.3 552.1L326.4 551.5L326.5 550.8L326.6 550.2L326.7 549.7L326.8 549.3L326.9 549.1L327.0 548.6L327.1 548.3L327.3 548.0L327.4 547.0L327.5 546.2L327.6 545.8L327.7 545.3L327.9 545.0L328.0 544.6L328.1 544.4L328.2 543.4L328.3 543.2L328.5 542.7L328.6 542.2L328.7 541.6L328.9 541.6L329.0 540.7L329.1 540.3L329.3 539.9L329.4 539.4L329.5 539.2L329.7 538.2L329.8 537.9L330.0 537.3L330.1 536.9L330.3 536.6L330.4 535.9L330.6 535.2L330.7 535.0L330.8 534.4L331.0 534.2L331.2 533.6L331.3 533.5L331.5 532.8L331.6 532.0L331.8 531.8L332.0 531.4L332.2 530.8L332.4 530.3L332.6 529.8L332.9 529.4L333.1 528.8L333.3 528.8L333.6 528.2L333.9 527.5L334.1 527.5L334.4 526.9L334.7 526.5L335.0 526.1L335.3 525.9L335.6 524.9L335.9 524.9L336.3 524.6L336.6 524.2L337.0 523.6L337.4 523.3L337.8 523.3L338.3 523.3L338.7 522.5L339.2 522.6L339.7 522.6L340.2 522.5L340.7 522.5L341.2 522.6L341.7 522.5L342.2 522.1L342.7 522.3L343.2 522.1L343.7 522.4L344.2 522.7L344.7 522.6L345.2 522.9L345.7 522.8L346.2 522.8L346.7 522.9L347.1 522.7L347.6 523.0L348.1 523.2L348.6 523.4L349.1 523.5L349.5 523.4L350.0 523.5L350.5 523.6L351.0 524.3L351.5 524.1L352.0 524.3L352.4 524.3L352.9 524.4L353.4 524.5L353.9 524.5L354.4 524.7L354.9 525.0L355.4 524.7L355.9 525.0L356.4 525.1L356.8 525.2L357.3 525.5L357.8 525.8L358.3 525.4L358.8 525.7L359.3 526.0L359.7 526.1L360.2 525.8L360.7 526.3L361.2 526.3L361.7 526.4L362.2 526.8L362.6 526.6L363.1 527.0L363.6 527.3L364.1 527.2L364.5 527.2L365.0 528.0L365.5 527.5L366.0 528.1L366.4 527.9L366.9 528.2L367.4 528.2L367.9 528.5L368.3 528.7L368.8 528.6L369.3 528.9L369.8 529.3L370.2 529.1L370.7 529.0L371.2 529.6L371.7 529.6L372.2 529.9L372.6 529.9L373.1 530.0L373.6 530.2L374.1 530.5L374.6 530.6L375.0 530.5L375.5 530.6L376.0 530.7L376.5 531.3L377.0 531.3L377.4 531.2L377.9 531.4L378.4 531.8L378.9 531.5L379.4 531.8L379.9 532.1L380.3 532.2L380.8 532.4L381.3 532.2L381.8 532.5L382.3 532.2L382.8 532.6L383.3 532.7L383.7 532.9L384.2 533.3L384.7 533.2L385.2 533.3L385.7 533.5L386.2 533.9L386.7 533.5L387.1 533.9L387.6 533.8L388.1 533.7L388.6 534.0L389.1 534.3L389.6 534.3L390.1 534.4L390.6 534.5L391.0 534.6L391.5 534.7L392.0 534.7L392.5 535.1L393.0 534.7L393.5 535.2L394.0 535.2L394.5 535.5L395.0 535.3L395.4 535.2L395.9 535.8L396.4 536.0L396.9 535.6L397.4 536.1L397.9 536.2L398.4 536.0L398.9 536.4L399.4 536.3L399.9 536.7L400.3 536.8L400.8 536.6L401.3 536.7L401.8 536.9L402.3 536.6L402.8 537.0L403.3 537.2L403.8 537.7L404.3 537.6L404.8 537.5L405.3 537.4L405.8 537.7L406.2 537.7L406.7 537.5L407.2 537.8L407.7 537.7L408.2 537.9L408.7 537.5L409.2 538.5L409.7 538.2L410.2 538.2L410.7 538.3L411.2 538.2L411.7 538.5L412.2 538.9L412.7 538.8L413.2 538.7L413.7 538.8L414.1 539.0L414.6 538.9L415.1 539.0L415.6 539.2L416.1 539.3L416.6 539.2L417.1 539.4L417.6 539.2L418.1 539.2L418.6 539.2L419.1 539.7L419.6 539.6L420.1 539.8L420.6 539.7L421.1 539.9L421.6 540.0L422.1 539.8L422.6 540.0L423.1 540.5L423.5 540.6L424.0 540.4L424.5 540.5L425.0 540.4L425.5 540.4L426.0 540.8L426.5 541.0L427.0 540.9L427.5 541.0L428.0 540.9L428.5 541.3L429.0 541.2L429.5 541.1L430.0 541.5L430.5 541.2L431.0 541.3L431.5 541.5L432.0 541.4L432.4 541.5L432.9 541.9L433.4 541.8L433.9 541.8L434.4 542.1L434.9 542.1L435.4 542.2L435.9 542.3L436.4 542.4L436.9 542.1L437.4 542.5L437.9 542.4L438.4 542.6L438.9 542.6L439.4 542.8L439.9 542.7L440.4 542.7L440.9 542.9L441.4 542.8L441.9 542.7L442.4 542.9L442.9 543.0L443.4 543.0L443.8 543.1L444.3 543.1L444.8 543.1L445.3 543.8L445.8 543.2L446.3 543.5L446.8 543.5L447.3 543.4L447.8 543.5L448.3 543.4L448.8 543.4L449.3 544.0L449.8 543.6L450.3 543.6L450.8 544.0L451.3 543.6L451.8 544.2L452.3 544.0L452.8 544.3L453.3 543.9L453.8 544.0L454.3 544.3L454.8 544.1L455.3 544.1L455.8 544.5L456.3 544.3L456.8 544.2L457.3 544.4L457.8 544.6L458.3 544.5L458.8 545.0L459.3 544.7L459.8 544.7L460.3 544.8L460.8 544.9L461.3 544.7L461.8 544.8L462.3 544.9L462.8 544.9L463.3 544.9L463.8 544.5L464.3 545.0L464.8 545.1L465.2 545.4L465.7 545.1L466.2 545.3L466.7 545.3L467.2 545.4L467.7 545.8L468.2 545.8L468.7 545.9L469.2 545.4L469.7 545.5L470.2 545.8L470.7 545.6L471.2 546.0L471.7 546.5L472.2 545.7L472.7 546.2L473.2 546.1L473.7 546.2L474.2 546.1L474.7 545.9L475.2 546.2L475.7 546.2L476.2 546.1L476.7 546.4L477.2 546.5L477.7 546.4L478.2 546.7L478.7 546.7L479.2 546.8L479.7 546.8L480.2 546.7L480.7 547.3L481.2 547.0L481.7 547.1L482.2 547.0L482.6 547.1L483.1 547.3L483.6 547.1L484.1 547.3L484.6 547.6L485.1 547.3L485.6 547.5L486.1 547.3L486.6 547.6L487.1 547.7L487.6 547.6L488.1 547.8L488.6 547.7L489.1 547.8L489.6 548.1L490.1 548.1L490.6 548.0L491.1 548.4L491.6 548.1L492.1 548.1L492.6 548.3L493.1 548.7L493.6 548.3L494.1 548.3L494.6 548.4L495.1 548.4L495.6 548.3L496.1 548.7L496.6 548.8L497.1 548.8L497.6 548.8L498.1 548.7L498.5 549.0L499.0 549.0L499.5 548.9L500.0 549.1L500.5 548.9L501.0 549.1L501.5 549.1L502.0 549.4L502.5 549.2L503.0 549.4L503.5 549.2L504.0 549.5L504.5 549.7L505.0 549.6L505.5 549.5L506.0 549.6L506.5 549.8L507.0 549.8L507.5 549.8" fill="none" stroke="#767676" stroke-width="1.4" stroke-linejoin="round" stroke-linecap="round"/>
<path d="M311.2 592.7L311.3 593.1L311.3 593.4L311.4 593.7L311.4 594.1L311.4 595.0L311.5 595.3L311.5 595.8L311.6 596.4L311.6 597.0L311.7 597.0L311.7 598.2L311.8 598.0L311.8 599.4L311.8 599.6L311.9 599.9L311.9 600.8L312.0 601.0L312.1 601.6L312.1 602.0L312.2 602.7L312.3 603.2L312.6 602.4L312.6 602.0L312.7 601.7L312.7 601.1L312.8 600.2L312.8 600.6L312.9 599.2L312.9 598.7L312.9 598.4L313.0 598.3L313.0 598.1L313.0 597.1L313.1 596.6L313.1 596.2L313.1 595.6L313.1 595.2L313.2 594.4L313.2 594.3L313.2 593.8L313.3 592.6L313.3 592.6L313.3 592.2L313.3 591.8L313.4 591.0L313.4 590.4L313.4 590.0L313.4 589.8L313.5 589.0L313.5 588.5L313.5 588.4L313.5 587.5L313.6 587.0L313.6 586.7L313.6 586.2L313.7 585.9L313.7 585.0L313.7 584.3L313.8 584.2L313.8 583.8L313.8 582.9L313.8 582.6L313.9 582.3L313.9 581.7L313.9 581.2L314.0 580.6L314.0 580.0L314.0 579.5L314.0 579.4L314.1 578.4L314.1 578.5L314.1 577.4L314.1 577.8L314.2 576.3L314.2 576.5L314.2 575.5L314.2 575.2L314.3 574.7L314.3 574.1L314.3 574.2L314.4 573.2L314.4 572.4L314.4 572.3L314.4 571.9L314.5 570.9L314.5 570.8L314.5 570.2L314.5 569.9L314.6 569.4L314.6 568.7L314.6 568.1L314.6 567.9L314.7 567.3L314.7 566.4L314.7 566.1L314.7 565.6L314.8 565.2L314.8 565.2L314.8 564.1L314.8 563.8L314.9 563.6L314.9 562.8L314.9 562.3L314.9 562.0L315.0 561.3L315.0 560.8L315.0 560.4L315.0 559.8L315.1 559.1L315.1 558.5L315.1 558.2L315.1 558.0L315.2 557.2L315.2 557.0L315.2 556.3L315.2 555.7L315.3 554.6L315.3 554.8L315.3 554.2L315.3 553.4L315.4 553.3L315.4 552.7L315.4 552.3L315.5 551.6L315.5 551.3L315.5 550.6L315.5 550.5L315.6 549.8L315.6 548.9L315.6 548.8L315.7 548.2L315.7 547.7L315.7 546.9L315.7 547.0L315.8 546.1L315.8 546.1L315.8 545.1L315.8 544.7L315.9 544.2L315.9 543.8L315.9 543.8L316.0 542.6L316.0 542.7L316.0 541.9L316.0 541.1L316.1 541.0L316.1 540.4L316.1 540.0L316.2 539.0L316.2 538.9L316.2 538.2L316.2 537.7L316.3 537.2L316.3 536.8L316.3 536.6L316.4 535.8L316.4 534.8L316.4 535.0L316.4 534.3L316.5 533.8L316.5 532.9L316.5 532.8L316.6 532.1L316.6 532.0L316.6 531.4L316.7 530.9L316.7 530.2L316.7 529.4L316.7 529.5L316.8 528.9L316.8 528.2L316.8 527.6L316.9 527.1L316.9 526.4L316.9 526.0L317.0 525.8L317.0 525.6L317.0 524.9L317.0 524.6L317.1 523.6L317.1 523.6L317.1 522.7L317.2 522.6L317.2 522.0L317.2 521.3L317.2 520.8L317.3 520.5L317.3 519.6L317.3 518.8L317.4 519.0L317.4 518.8L317.4 517.4L317.5 517.3L317.5 516.5L317.5 516.2L317.6 515.6L317.6 515.5L317.6 514.7L317.7 514.3L317.7 513.6L317.7 513.5L317.8 512.7L317.8 512.2L317.9 511.8L317.9 511.0L317.9 510.8L318.0 509.9L318.0 509.8L318.1 509.3L318.1 508.7L318.2 508.3L318.2 507.7L318.3 507.4L318.3 506.8L318.4 506.2L318.4 505.8L318.5 505.2L318.5 504.8L318.6 504.3L318.6 503.4L318.7 503.7L318.7 502.7L318.8 502.2L318.8 501.9L318.9 500.9L319.0 500.8L319.0 500.4L319.1 499.8L319.1 499.4L319.2 498.8L319.2 498.3L319.3 497.9L319.4 497.4L319.4 496.6L319.5 496.4L319.5 496.0L319.6 495.3L319.6 494.8L319.7 494.4L319.7 494.2L319.8 493.6L319.8 492.7L319.9 492.3L319.9 491.8L320.0 491.5L320.0 490.9L320.0 490.5L320.1 490.2L320.1 489.5L320.2 489.0L320.2 488.5L320.3 487.8L320.3 487.4L320.4 486.9L320.5 486.3L320.5 486.3L320.6 485.6L320.7 484.3L320.7 484.3L320.8 483.9L320.9 483.5L320.9 482.8L321.0 482.4L321.1 481.9L321.2 481.4L321.2 481.1L321.3 480.5L321.4 479.9L321.5 479.4L321.6 479.0L321.7 478.3L321.8 477.9L321.9 477.7L322.0 477.3L322.1 476.0L322.2 476.6L322.3 475.5L322.5 475.3L322.6 474.3L322.7 474.3L322.9 473.7L323.0 473.2L323.2 472.7L323.3 472.2L323.5 471.9L323.7 471.1L323.9 470.8L324.1 470.3L324.3 469.6L324.6 469.6L324.9 469.2L325.3 468.7L325.7 468.2L326.1 468.1L326.5 467.8L326.9 467.6L327.3 467.4L327.8 466.9L328.3 467.3L328.8 467.1L329.3 467.1L329.8 467.0L330.3 467.2L330.8 467.1L331.3 467.3L331.7 467.2L332.2 467.2L332.7 467.4L333.2 467.3L333.7 467.6L334.1 467.9L334.6 468.0L335.0 467.8L335.4 468.5L335.8 468.7L336.3 469.3L336.7 468.9L337.1 469.5L337.6 470.2L338.0 469.6L338.4 470.4L338.8 470.6L339.2 470.6L339.6 471.3L340.1 471.4L340.5 471.2L340.9 472.0L341.3 472.1L341.7 472.9L342.1 473.0L342.5 473.0L343.0 473.5L343.4 474.2L343.8 473.8L344.2 474.1L344.6 474.6L345.1 474.9L345.5 475.2L345.9 475.1L346.3 475.7L346.7 475.7L347.1 476.1L347.6 476.7L348.0 476.6L348.4 477.2L348.8 477.3L349.2 477.6L349.7 477.9L350.1 478.3L350.5 478.6L350.9 478.5L351.3 479.3L351.8 479.4L352.2 479.7L352.6 480.0L353.0 479.9L353.4 480.3L353.9 480.6L354.3 480.9L354.7 481.5L355.1 481.8L355.5 482.5L355.9 482.4L356.4 482.6L356.8 482.5L357.2 482.6L357.6 483.1L358.0 483.3L358.5 483.4L358.9 483.8L359.3 484.3L359.7 484.4L360.1 484.9L360.6 485.1L361.0 485.3L361.4 485.8L361.8 485.7L362.3 486.0L362.7 486.6L363.1 486.7L363.5 486.5L364.0 487.1L364.4 487.7L364.8 487.7L365.3 488.1L365.7 487.7L366.1 488.4L366.6 488.1L367.0 489.0L367.4 488.8L367.9 489.6L368.3 489.4L368.8 489.8L369.2 490.0L369.7 490.2L370.1 490.1L370.5 490.8L371.0 490.8L371.4 491.7L371.9 491.3L372.3 491.6L372.8 491.7L373.2 492.4L373.7 492.5L374.1 492.6L374.6 492.9L375.0 492.7L375.5 492.8L376.0 493.5L376.4 493.3L376.9 493.6L377.3 493.5L377.8 494.0L378.2 494.4L378.7 494.5L379.1 494.4L379.6 495.1L380.1 495.1L380.5 494.7L381.0 495.2L381.5 495.6L381.9 495.7L382.4 496.0L382.9 496.4L383.3 496.3L383.8 496.4L384.3 496.9L384.8 497.1L385.3 496.8L385.7 497.3L386.2 496.7L386.7 497.6L387.2 497.4L387.7 497.3L388.2 497.5L388.7 497.7L389.2 498.1L389.6 498.1L390.1 498.1L390.6 498.1L391.1 498.3L391.6 498.1L392.1 498.4L392.5 498.5L393.0 498.7L393.5 499.0L394.0 499.0L394.5 498.8L395.0 499.5L395.4 499.4L395.9 499.7L396.4 499.5L396.9 499.8L397.4 499.9L397.9 500.4L398.3 499.9L398.8 500.5L399.3 500.4L399.8 500.7L400.3 500.6L400.8 500.5L401.2 501.2L401.7 501.0L402.2 501.3L402.7 501.5L403.2 501.1L403.7 501.5L404.1 501.7L404.6 502.0L405.1 502.1L405.6 502.3L406.1 502.2L406.6 502.7L407.0 502.5L407.5 502.6L408.0 502.7L408.5 502.7L409.0 503.0L409.5 503.2L409.9 503.4L410.4 503.9L410.9 503.6L411.4 503.8L411.9 503.5L412.4 503.9L412.8 504.1L413.3 504.3L413.8 504.3L414.3 504.5L414.8 504.4L415.3 505.0L415.7 505.1L416.2 504.7L416.7 504.7L417.2 505.0L417.7 505.3L418.2 505.2L418.6 505.6L419.1 505.8L419.6 506.0L420.1 506.1L420.6 505.7L421.1 505.7L421.6 506.3L422.1 506.1L422.6 506.2L423.0 506.3L423.5 506.5L424.0 506.8L424.5 506.5L425.0 506.6L425.5 507.2L426.0 507.2L426.5 506.8L427.0 506.9L427.5 507.4L428.0 507.6L428.4 508.0L428.9 507.7L429.4 507.8L429.9 507.7L430.4 507.9L430.9 507.8L431.4 508.3L431.9 508.2L432.4 508.4L432.9 508.3L433.4 508.1L433.9 508.4L434.4 508.7L434.9 508.7L435.4 508.3L435.8 509.0L436.3 508.7L436.8 509.2L437.3 508.9L437.8 508.9L438.3 509.4L438.8 509.0L439.3 509.6L439.8 509.3L440.3 509.7L440.8 509.3L441.3 509.7L441.8 509.7L442.2 510.2L442.7 509.8L443.2 510.0L443.7 510.0L444.2 510.2L444.7 510.4L445.2 510.7L445.7 510.7L446.2 510.3L446.7 511.1L447.2 510.8L447.7 511.1L448.1 510.9L448.6 511.2L449.1 511.1L449.6 511.2L450.1 511.3L450.6 511.2L451.1 511.6L451.6 511.7L452.1 511.8L452.6 512.1L453.1 512.1L453.6 512.1L454.1 512.3L454.5 512.2L455.0 512.4L455.5 512.3L456.0 512.0L456.5 512.3L457.0 512.4L457.5 512.6L458.0 512.7L458.5 512.9L459.0 513.0L459.5 512.8L460.0 513.0L460.5 513.3L460.9 513.4L461.4 513.6L461.9 513.4L462.4 514.0L462.9 513.4L463.4 513.3L463.9 513.7L464.4 513.5L464.9 514.0L465.4 514.0L465.9 513.7L466.4 514.2L466.9 514.4L467.4 514.1L467.9 514.3L468.4 514.2L468.9 514.4L469.3 514.3L469.8 514.6L470.3 514.5L470.8 514.8L471.3 515.1L471.8 515.1L472.3 515.0L472.8 515.3L473.3 515.2L473.8 515.0L474.3 515.3L474.8 515.4L475.3 515.3L475.8 515.5L476.3 515.3L476.8 515.6L477.3 515.7L477.8 515.7L478.3 515.6L478.8 515.8L479.3 515.6L479.8 515.8L480.3 516.1L480.8 516.2L481.3 516.2L481.8 516.1L482.2 516.3L482.7 516.1L483.2 516.3L483.7 516.2L484.2 516.1L484.7 516.5L485.2 516.4L485.7 516.5L486.2 516.4L486.7 517.0L487.2 516.8L487.7 516.6L488.2 517.0L488.7 516.9L489.2 516.8L489.7 516.8L490.2 517.2L490.7 517.0L491.2 517.2L491.7 517.0L492.2 517.3L492.7 517.4L493.2 517.4L493.7 517.5L494.2 517.7L494.7 517.7L495.2 517.4L495.7 518.0L496.2 517.6L496.7 517.6L497.2 517.8L497.7 518.0L498.2 518.0L498.7 517.7L499.2 517.9L499.6 518.2L500.1 518.1L500.6 518.2L501.1 517.8L501.6 518.2L502.1 518.3L502.6 518.1L503.1 518.0L503.6 518.5L504.1 518.7L504.6 518.3L505.1 518.5L505.6 518.9L506.1 519.1L506.6 518.8L507.1 518.3L507.6 518.9" fill="none" stroke="#4a4a4a" stroke-width="1.3" stroke-linejoin="round" stroke-linecap="round"/>
<path d="M311.2 592.4L311.3 592.7L311.3 593.7L311.4 593.7L311.4 595.1L311.5 595.2L311.5 595.4L311.5 596.1L311.6 596.9L311.6 597.8L311.7 597.2L311.7 598.3L311.8 598.6L311.8 598.9L311.9 599.8L311.9 600.1L312.0 600.8L312.0 600.8L312.1 601.5L312.1 602.1L312.2 602.5L312.3 602.9L312.5 602.4L312.6 602.2L312.7 601.7L312.7 601.1L312.7 600.6L312.8 600.3L312.8 599.5L312.8 599.3L312.8 598.6L312.9 598.2L312.9 597.6L312.9 597.4L312.9 596.9L312.9 596.1L313.0 595.5L313.0 595.7L313.0 594.8L313.0 593.8L313.0 593.6L313.1 593.1L313.1 592.8L313.1 592.1L313.1 591.4L313.1 591.5L313.2 590.1L313.2 589.8L313.2 589.5L313.2 589.0L313.2 588.6L313.3 588.1L313.3 587.9L313.3 586.7L313.3 587.5L313.3 586.3L313.4 585.4L313.4 585.0L313.4 584.5L313.4 583.5L313.5 583.8L313.5 582.8L313.5 582.5L313.5 581.8L313.6 581.5L313.6 581.2L313.6 580.3L313.6 580.6L313.7 579.3L313.7 579.0L313.7 578.7L313.7 578.3L313.8 577.7L313.8 577.2L313.8 576.8L313.8 576.3L313.9 575.4L313.9 575.3L313.9 574.5L313.9 573.8L314.0 573.6L314.0 573.0L314.0 572.7L314.0 572.2L314.1 571.5L314.1 571.2L314.1 570.6L314.1 569.7L314.2 570.1L314.2 569.2L314.2 568.6L314.2 568.4L314.3 567.3L314.3 567.0L314.3 566.9L314.3 565.6L314.4 565.4L314.4 565.6L314.4 564.8L314.4 563.9L314.4 563.7L314.5 563.4L314.5 562.4L314.5 562.2L314.5 561.8L314.6 561.2L314.6 561.1L314.6 560.2L314.6 559.6L314.7 559.2L314.7 558.6L314.7 557.9L314.7 557.6L314.8 557.0L314.8 557.2L314.8 556.8L314.8 555.6L314.9 554.4L314.9 554.6L314.9 554.4L314.9 553.5L315.0 553.4L315.0 552.9L315.0 552.0L315.0 551.6L315.1 550.9L315.1 550.6L315.1 549.9L315.2 549.5L315.2 549.6L315.2 548.6L315.2 548.5L315.3 547.8L315.3 546.8L315.3 546.7L315.3 546.1L315.4 545.4L315.4 545.1L315.4 545.0L315.4 544.5L315.5 543.6L315.5 543.0L315.5 542.7L315.5 542.3L315.6 542.1L315.6 541.0L315.6 540.4L315.7 540.2L315.7 539.2L315.7 539.2L315.7 538.8L315.8 537.7L315.8 538.0L315.8 537.0L315.8 536.7L315.9 536.1L315.9 535.7L315.9 535.2L315.9 534.5L316.0 533.7L316.0 534.0L316.0 533.2L316.1 532.9L316.1 532.3L316.1 532.1L316.1 531.2L316.2 530.6L316.2 531.0L316.2 530.1L316.2 529.5L316.3 529.1L316.3 528.6L316.3 527.1L316.3 527.1L316.4 526.8L316.4 526.4L316.4 525.5L316.4 525.3L316.5 524.4L316.5 524.1L316.5 523.2L316.5 523.1L316.6 523.2L316.6 521.9L316.6 521.9L316.6 520.9L316.7 520.4L316.7 520.9L316.7 519.5L316.7 519.2L316.8 518.6L316.8 517.5L316.8 517.7L316.8 517.4L316.9 516.4L316.9 515.9L316.9 515.5L317.0 515.4L317.0 514.5L317.0 514.5L317.0 513.9L317.1 512.7L317.1 512.4L317.1 512.2L317.2 511.5L317.2 511.5L317.2 511.1L317.3 510.1L317.3 510.0L317.4 509.5L317.4 508.8L317.4 508.6L317.5 507.7L317.5 507.4L317.6 506.6L317.6 506.0L317.7 506.2L317.7 505.8L317.8 504.8L317.8 504.6L317.9 503.7L317.9 503.1L318.0 503.0L318.0 502.7L318.1 501.8L318.1 501.4L318.2 500.8L318.2 500.1L318.3 499.3L318.3 499.3L318.4 498.4L318.4 498.8L318.5 497.9L318.5 497.5L318.5 497.1L318.6 496.0L318.6 495.5L318.7 495.7L318.7 495.0L318.7 494.4L318.8 494.1L318.8 492.8L318.8 493.1L318.9 492.4L318.9 492.0L318.9 491.5L319.0 491.4L319.0 490.5L319.0 489.8L319.0 489.1L319.1 489.6L319.1 487.8L319.1 487.8L319.2 487.3L319.2 486.6L319.2 486.1L319.3 485.8L319.3 484.9L319.4 484.7L319.4 484.4L319.5 483.3L319.5 483.2L319.6 482.8L319.6 482.2L319.7 481.7L319.8 481.2L319.8 480.6L319.9 480.1L319.9 480.0L320.0 479.3L320.1 478.9L320.2 478.8L320.2 478.2L320.3 477.3L320.4 477.4L320.4 476.4L320.5 476.3L320.6 474.9L320.7 475.4L320.7 474.4L320.8 473.7L320.9 473.2L321.0 472.3L321.0 472.1L321.1 471.8L321.2 471.9L321.3 471.0L321.3 470.4L321.4 470.3L321.5 469.6L321.6 468.8L321.7 468.3L321.8 467.5L321.9 467.5L322.0 466.4L322.2 466.8L322.3 465.6L322.5 465.6L322.6 465.4L322.8 464.4L322.9 464.2L323.1 464.3L323.3 463.1L323.5 463.1L323.7 462.6L323.9 461.4L324.2 461.6L324.5 460.7L324.9 460.8L325.2 460.5L325.6 460.4L326.1 459.8L326.5 459.6L326.9 459.5L327.4 459.8L327.9 459.2L328.4 459.5L328.9 458.8L329.4 458.7L329.9 459.3L330.4 458.9L330.8 459.4L331.3 459.4L331.8 460.2L332.2 460.3L332.7 460.7L333.1 460.5L333.5 460.6L334.0 460.8L334.4 461.7L334.8 461.1L335.2 461.5L335.7 461.7L336.1 462.5L336.5 462.4L336.9 463.0L337.3 463.4L337.7 464.1L338.1 463.9L338.5 463.3L338.9 463.7L339.3 464.6L339.6 465.4L339.9 465.1L340.3 465.6L340.6 465.7L341.0 466.3L341.3 466.9L341.7 467.1L342.1 467.5L342.4 468.0L342.8 468.0L343.2 468.2L343.6 468.0L344.0 468.7L344.4 469.7L344.8 469.3L345.2 469.8L345.6 470.0L346.0 470.5L346.4 471.0L346.8 470.9L347.1 471.2L347.5 471.9L347.9 471.6L348.3 472.5L348.7 472.5L349.1 472.9L349.5 473.5L349.9 473.8L350.3 474.2L350.7 474.0L351.1 474.5L351.5 474.6L351.9 474.8L352.3 475.3L352.7 475.8L353.1 476.0L353.5 476.3L353.9 476.3L354.3 476.9L354.8 477.3L355.2 478.0L355.6 477.6L356.0 478.3L356.4 478.3L356.8 479.4L357.2 479.1L357.6 479.7L358.0 479.7L358.4 479.5L358.9 479.8L359.3 480.3L359.7 480.3L360.1 481.0L360.5 481.0L360.9 481.4L361.3 481.3L361.7 482.6L362.2 482.0L362.6 482.6L363.0 482.7L363.4 483.2L363.8 483.8L364.2 484.0L364.6 483.5L365.0 484.4L365.5 484.8L365.9 485.2L366.3 484.9L366.7 485.2L367.2 485.1L367.6 486.5L368.0 486.0L368.5 486.3L368.9 486.4L369.3 486.9L369.8 487.3L370.2 487.6L370.6 487.4L371.1 487.5L371.5 488.3L372.0 488.1L372.4 489.1L372.9 488.9L373.3 488.8L373.7 489.6L374.2 488.9L374.6 489.7L375.1 489.9L375.5 490.2L376.0 490.0L376.4 490.6L376.9 490.9L377.3 491.2L377.8 491.1L378.2 491.0L378.7 491.7L379.1 491.4L379.6 492.0L380.0 492.2L380.5 493.2L381.0 492.6L381.4 492.5L381.9 492.9L382.3 493.5L382.8 493.4L383.2 494.2L383.7 493.9L384.1 494.5L384.6 494.6L385.1 494.3L385.5 494.8L386.0 494.7L386.4 495.2L386.9 495.2L387.4 495.6L387.8 495.5L388.3 495.9L388.7 495.8L389.2 496.0L389.7 496.7L390.1 496.5L390.6 496.4L391.1 496.6L391.5 497.1L392.0 497.7L392.5 497.5L392.9 497.9L393.4 497.8L393.9 498.0L394.3 498.3L394.8 498.4L395.3 499.2L395.7 498.9L396.2 499.2L396.7 499.0L397.1 499.2L397.6 499.1L398.1 499.5L398.5 499.4L399.0 499.7L399.5 500.0L400.0 499.7L400.4 499.9L400.9 500.2L401.4 501.0L401.9 501.0L402.3 501.6L402.8 501.4L403.3 501.2L403.8 501.6L404.2 501.6L404.7 501.4L405.2 501.9L405.7 502.2L406.2 502.6L406.6 502.7L407.1 502.2L407.6 502.4L408.1 503.0L408.6 503.1L409.0 503.0L409.5 503.2L410.0 503.7L410.5 503.8L411.0 503.5L411.4 503.6L411.9 503.9L412.4 503.8L412.9 504.0L413.4 504.7L413.9 504.7L414.3 504.5L414.8 504.7L415.3 505.2L415.8 504.7L416.3 504.7L416.8 505.3L417.3 505.3L417.8 505.0L418.2 505.6L418.7 505.4L419.2 505.6L419.7 506.4L420.2 505.9L420.7 505.9L421.2 505.8L421.7 506.4L422.1 506.3L422.6 506.6L423.1 507.0L423.6 506.9L424.1 507.1L424.6 507.2L425.1 506.5L425.6 507.0L426.1 506.8L426.6 507.4L427.0 507.3L427.5 507.5L428.0 507.5L428.5 507.4L429.0 507.5L429.5 507.9L430.0 508.0L430.5 507.8L431.0 507.5L431.5 507.5L432.0 508.4L432.5 508.5L432.9 508.1L433.4 508.5L433.9 508.9L434.4 508.7L434.9 509.1L435.4 509.1L435.9 508.8L436.4 508.7L436.9 509.4L437.4 509.3L437.9 509.7L438.3 509.5L438.8 509.7L439.3 509.5L439.8 509.1L440.3 509.7L440.8 509.5L441.3 509.9L441.8 510.1L442.3 510.8L442.7 510.3L443.2 510.9L443.7 510.2L444.2 511.3L444.7 510.3L445.2 510.8L445.7 511.6L446.1 511.7L446.6 511.5L447.1 511.5L447.6 511.8L448.1 511.4L448.6 511.9L449.1 512.4L449.5 512.5L450.0 511.7L450.5 512.6L451.0 512.3L451.5 512.3L452.0 512.4L452.4 512.5L452.9 512.5L453.4 513.4L453.9 512.5L454.4 513.2L454.9 513.2L455.4 513.9L455.8 513.5L456.3 513.8L456.8 513.5L457.3 513.9L457.8 514.3L458.3 513.9L458.8 514.5L459.2 514.5L459.7 514.7L460.2 514.9L460.7 515.1L461.2 514.3L461.7 515.4L462.2 514.9L462.6 514.9L463.1 515.4L463.6 515.6L464.1 516.0L464.6 515.6L465.1 516.4L465.6 515.9L466.1 516.4L466.5 515.9L467.0 516.4L467.5 516.3L468.0 516.7L468.5 516.7L469.0 516.8L469.5 516.7L470.0 516.9L470.5 516.9L471.0 516.7L471.4 516.7L471.9 517.1L472.4 517.2L472.9 517.5L473.4 517.7L473.9 517.9L474.4 517.3L474.9 517.7L475.4 517.6L475.9 518.1L476.4 517.9L476.9 518.3L477.3 518.4L477.8 518.7L478.3 518.8L478.8 518.1L479.3 518.5L479.8 518.4L480.3 518.6L480.8 519.0L481.3 519.0L481.8 518.8L482.3 519.2L482.8 518.9L483.3 519.0L483.8 519.0L484.2 519.5L484.7 519.6L485.2 519.6L485.7 519.8L486.2 520.1L486.7 519.6L487.2 520.1L487.7 520.4L488.2 520.1L488.7 519.7L489.2 519.7L489.7 520.3L490.2 520.6L490.7 520.2L491.2 520.5L491.7 520.7L492.1 521.0L492.6 520.4L493.1 521.0L493.6 520.8L494.1 520.9L494.6 521.2L495.1 521.5L495.6 521.0L496.1 520.9L496.6 521.4L497.1 521.2L497.6 521.2L498.1 521.3L498.6 521.5L499.1 521.9L499.6 521.8L500.1 521.8L500.5 522.0L501.0 521.9L501.5 522.1L502.0 522.7L502.5 522.4L503.0 522.3L503.5 522.5L504.0 522.7L504.5 522.7L505.0 522.7L505.5 522.8L506.0 522.7L506.5 523.5L507.0 523.2L507.5 523.4" fill="none" stroke="#111" stroke-width="1.5" stroke-linejoin="round" stroke-linecap="round"/>
<path d="M56.4 51.3 C56.9 49.3 58.4 49.5 59.0 51.0 S60.4 52.7 61.0 50.1" fill="none" stroke="#555" stroke-width="1.6" stroke-linecap="round"/>
<path d="M55.6 240.4 C56.1 238.4 57.6 238.6 58.2 240.1 S59.6 241.8 60.2 239.2" fill="none" stroke="#555" stroke-width="1.6" stroke-linecap="round"/>
<path d="M56.3 464.3 C56.8 462.3 58.3 462.5 58.9 464.0 S60.3 465.7 60.9 463.1" fill="none" stroke="#555" stroke-width="1.6" stroke-linecap="round"/>
</svg>
</body></html>
